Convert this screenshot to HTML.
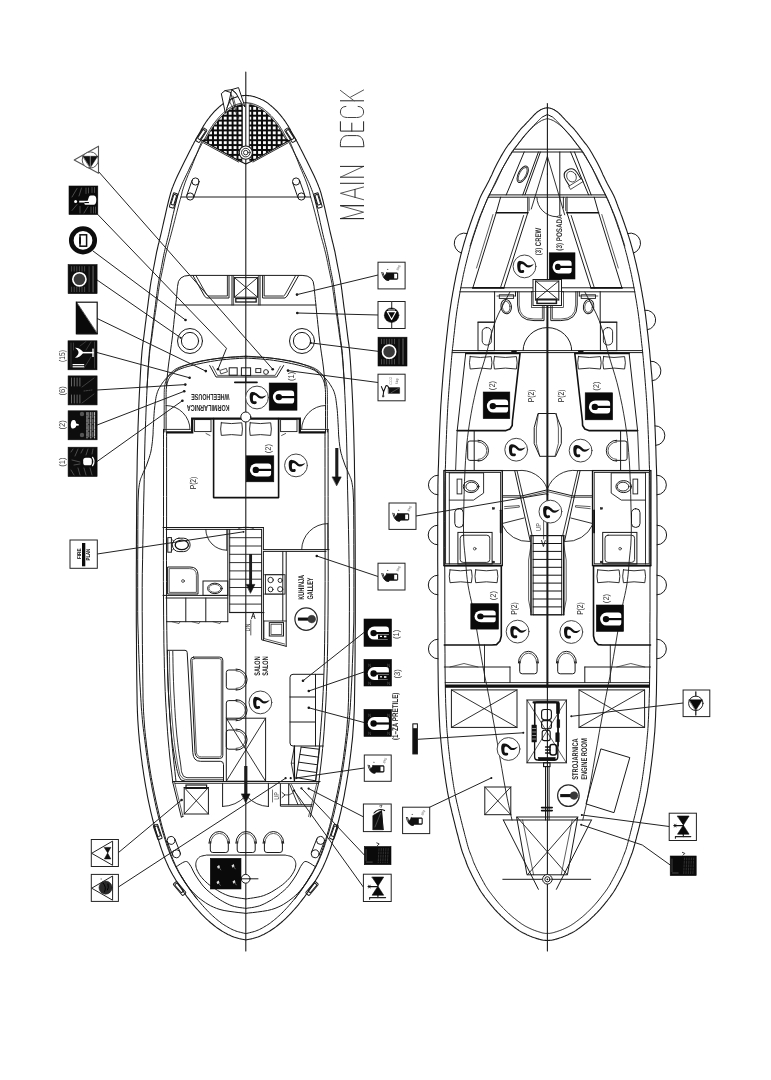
<!DOCTYPE html>
<html><head><meta charset="utf-8"><title>Deck plan</title>
<style>
html,body{margin:0;padding:0;background:#fff;}
body{width:771px;height:1080px;overflow:hidden;font-family:"Liberation Sans",sans-serif;}
svg{display:block;font-family:"Liberation Sans",sans-serif;filter:grayscale(1);}
text{text-rendering:geometricPrecision;}
</style></head><body>
<svg width="771" height="1080" viewBox="0 0 771 1080">
<defs>
<pattern id="grate" width="4.9" height="4.9" patternUnits="userSpaceOnUse" x="242.4" y="101">
<rect width="4.9" height="4.9" fill="#0a0a0a"/><rect x="1" y="1" width="2.9" height="2.9" fill="#fff"/>
</pattern>
</defs>
<rect width="771" height="1080" fill="#fff"/>
<g fill="none" stroke="#1a1a1a" stroke-width="1" stroke-linecap="round" stroke-linejoin="round">
<!-- main deck hull -->
<path d="M245.8 95.4 L245.4 95.4 L244.9 95.5 L244.3 95.5 L243.6 95.6 L242.9 95.6 L242.2 95.7 L241.5 95.8 L240.8 95.9 L240.2 96 L239.5 96.2 L238.9 96.3 L238.3 96.5 L237.6 96.6 L237 96.8 L236.4 97 L235.8 97.2 L235.2 97.4 L234.7 97.6 L234.1 97.8 L233.6 98 L233 98.2 L232.5 98.4 L231.9 98.6 L231.3 98.9 L230.7 99.2 L230 99.5 L229.4 99.8 L228.7 100.1 L228 100.5 L227.3 100.8 L226.7 101.2 L226 101.6 L225.4 102 L224.7 102.4 L224.1 102.9 L223.5 103.3 L222.9 103.8 L222.3 104.3 L221.7 104.9 L221 105.4 L220.3 106 L219.6 106.6 L218.9 107.2 L218.2 107.8 L217.5 108.5 L216.8 109.1 L216.1 109.8 L215.4 110.5 L214.7 111.2 L214 111.9 L213.4 112.7 L212.7 113.4 L212.1 114.2 L211.4 114.9 L210.8 115.7 L210.2 116.4 L209.6 117.1 L209.1 117.8 L208.5 118.5 L208 119.2 L207.5 119.9 L207 120.6 L206.5 121.3 L206 122 L205.5 122.7 L205.1 123.4 L204.7 124 L204.2 124.7 L203.8 125.4 L203.4 126 L203 126.7 L202.6 127.4 L202.2 128.1 L201.8 128.7 L201.5 129.4 L201.1 130 L200.8 130.7 L200.4 131.4 L200 132.2 L199.5 133 L199 133.9 L198.5 134.8 L197.9 135.8 L197.3 136.8 L196.8 137.8 L196.2 138.9 L195.6 139.9 L195 141 L194.4 142 L193.9 143 L193.4 144 L192.9 144.9 L192.3 146 L191.7 147.2 L191.1 148.5 L190.3 150 L189.4 151.7 L188.4 153.7 L187.4 155.7 L186.3 157.9 L185.1 160.2 L184 162.5 L182.9 164.8 L181.8 167 L180.7 169.2 L179.6 171.5 L178.5 173.8 L177.4 176.1 L176.3 178.4 L175.3 180.7 L174.4 182.9 L173.5 185 L172.8 186.9 L172.1 188.5 L171.6 190.1 L171.1 191.6 L170.6 193.2 L170.1 195.1 L169.5 197.3 L168.8 200 L168 203.4 L167 207.4 L166 211.8 L165 216.4 L163.9 221 L162.9 225.5 L162 229.5 L161.2 233 L160.5 235.9 L159.9 238.4 L159.4 240.5 L158.9 242.5 L158.4 244.3 L158 246.1 L157.6 248 L157.1 250 L156.6 252.1 L156.2 254.3 L155.8 256.4 L155.4 258.6 L155 260.7 L154.6 262.8 L154.2 264.9 L153.8 267 L153.4 269 L153 271 L152.6 273 L152.2 275 L151.9 277 L151.5 279 L151.1 281 L150.8 283 L150.5 285 L150.2 286.8 L150 288.6 L149.7 290.4 L149.5 292.4 L149.2 294.6 L148.9 297.1 L148.5 300 L148.1 303.4 L147.6 307.3 L147 311.5 L146.4 315.9 L145.9 320.4 L145.3 324.8 L144.8 329.1 L144.3 333 L143.9 336.4 L143.5 339.4 L143.1 342.1 L142.7 344.8 L142.4 347.7 L142 351.1 L141.7 355.1 L141.3 360 L140.9 365.9 L140.5 372.4 L140.1 379.6 L139.7 387.3 L139.3 395.3 L138.9 403.5 L138.6 411.8 L138.3 420 L138 428 L137.8 435.9 L137.6 443.8 L137.4 451.9 L137.2 460.4 L137.1 469.5 L136.9 479.3 L136.8 490 L136.7 502 L136.6 515.4 L136.5 529.6 L136.4 544.4 L136.4 559.2 L136.3 573.7 L136.3 587.4 L136.3 600 L136.3 611.7 L136.3 623 L136.4 634 L136.5 644.4 L136.5 654.2 L136.6 663.5 L136.7 672.1 L136.8 680 L136.9 687 L137 693 L137.1 698.2 L137.1 702.9 L137.3 707.3 L137.4 711.4 L137.6 715.6 L137.8 720 L138.1 724.5 L138.4 728.7 L138.7 732.8 L139.1 736.9 L139.4 740.9 L139.9 744.8 L140.3 748.9 L140.8 753 L141.3 757.2 L141.9 761.5 L142.4 765.7 L143.1 770 L143.7 774.3 L144.4 778.5 L145.1 782.8 L145.8 787 L146.6 791.2 L147.3 795.3 L148.1 799.4 L149 803.6 L149.9 807.7 L150.8 811.8 L151.8 815.9 L152.8 820 L153.9 824.2 L155.1 828.5 L156.3 832.9 L157.6 837.2 L158.9 841.4 L160.2 845.5 L161.5 849.4 L162.8 853 L164 856.3 L165.2 859.3 L166.4 862.1 L167.6 864.8 L168.8 867.4 L170.1 869.9 L171.4 872.4 L172.8 875 L174.3 877.6 L175.9 880.3 L177.5 882.9 L179.2 885.4 L180.9 888 L182.6 890.4 L184.2 892.8 L185.8 895 L187.3 897.1 L188.9 899.2 L190.4 901.1 L191.9 903 L193.3 904.8 L194.8 906.6 L196.3 908.3 L197.8 910 L199.3 911.7 L200.8 913.3 L202.3 914.9 L203.8 916.4 L205.3 917.9 L206.8 919.3 L208.3 920.7 L209.8 922 L211.3 923.3 L212.8 924.5 L214.3 925.7 L215.8 926.9 L217.3 928 L218.8 929 L220.3 930 L221.8 931 L223.3 931.9 L224.8 932.8 L226.3 933.6 L227.8 934.4 L229.3 935.1 L230.8 935.8 L232.3 936.4 L233.8 937 L235.4 937.5 L237.1 938 L238.8 938.5 L240.6 938.9 L242.2 939.2 L243.6 939.5 L244.9 939.8 L245.8 940 L246.7 939.8 L248 939.5 L249.4 939.2 L251.1 938.9 L252.8 938.5 L254.5 938 L256.2 937.5 L257.8 937 L259.3 936.4 L260.8 935.8 L262.3 935.1 L263.8 934.4 L265.3 933.6 L266.8 932.8 L268.3 931.9 L269.8 931 L271.3 930 L272.8 929 L274.3 928 L275.8 926.9 L277.3 925.7 L278.8 924.5 L280.3 923.3 L281.8 922 L283.3 920.7 L284.8 919.3 L286.3 917.9 L287.8 916.4 L289.3 914.9 L290.8 913.3 L292.3 911.7 L293.8 910 L295.3 908.3 L296.8 906.6 L298.3 904.8 L299.7 903 L301.2 901.1 L302.7 899.2 L304.3 897.1 L305.8 895 L307.4 892.8 L309 890.4 L310.7 888 L312.4 885.4 L314.1 882.9 L315.7 880.3 L317.3 877.6 L318.8 875 L320.2 872.4 L321.5 869.9 L322.8 867.4 L324 864.8 L325.2 862.1 L326.4 859.3 L327.6 856.3 L328.8 853 L330.1 849.4 L331.4 845.5 L332.7 841.4 L334 837.2 L335.3 832.9 L336.5 828.5 L337.7 824.2 L338.8 820 L339.8 815.9 L340.8 811.8 L341.7 807.7 L342.6 803.6 L343.5 799.4 L344.3 795.3 L345 791.2 L345.8 787 L346.5 782.8 L347.2 778.5 L347.9 774.3 L348.6 770 L349.2 765.7 L349.7 761.5 L350.3 757.2 L350.8 753 L351.3 748.9 L351.7 744.8 L352.2 740.9 L352.6 736.9 L352.9 732.8 L353.2 728.7 L353.5 724.5 L353.8 720 L354 715.6 L354.2 711.4 L354.3 707.3 L354.5 702.9 L354.5 698.2 L354.6 693 L354.7 687 L354.8 680 L354.9 672.1 L355 663.5 L355.1 654.2 L355.1 644.4 L355.2 634 L355.3 623 L355.3 611.7 L355.3 600 L355.3 587.4 L355.3 573.7 L355.2 559.2 L355.2 544.4 L355.1 529.6 L355 515.4 L354.9 502 L354.8 490 L354.7 479.3 L354.5 469.5 L354.4 460.4 L354.2 451.9 L354 443.8 L353.8 435.9 L353.6 428 L353.3 420 L353 411.8 L352.7 403.5 L352.3 395.3 L351.9 387.3 L351.5 379.6 L351.1 372.4 L350.7 365.9 L350.3 360 L349.9 355.1 L349.6 351.1 L349.2 347.7 L348.9 344.8 L348.5 342.1 L348.1 339.4 L347.7 336.4 L347.3 333 L346.8 329.1 L346.3 324.8 L345.7 320.4 L345.2 315.9 L344.6 311.5 L344 307.3 L343.5 303.4 L343.1 300 L342.7 297.1 L342.4 294.6 L342.1 292.4 L341.9 290.4 L341.6 288.6 L341.4 286.8 L341.1 285 L340.8 283 L340.5 281 L340.1 279 L339.7 277 L339.4 275 L339 273 L338.6 271 L338.2 269 L337.8 267 L337.4 264.9 L337 262.8 L336.6 260.7 L336.2 258.6 L335.8 256.4 L335.4 254.3 L335 252.1 L334.5 250 L334 248 L333.6 246.1 L333.2 244.3 L332.7 242.5 L332.2 240.5 L331.7 238.4 L331.1 235.9 L330.4 233 L329.6 229.5 L328.7 225.5 L327.7 221 L326.6 216.4 L325.6 211.8 L324.6 207.4 L323.6 203.4 L322.8 200 L322.1 197.3 L321.5 195.1 L321 193.2 L320.5 191.6 L320 190.1 L319.5 188.5 L318.8 186.9 L318.1 185 L317.2 182.9 L316.3 180.7 L315.3 178.4 L314.2 176.1 L313.1 173.8 L312 171.5 L310.9 169.2 L309.8 167 L308.7 164.8 L307.6 162.5 L306.5 160.2 L305.3 157.9 L304.2 155.7 L303.2 153.7 L302.2 151.7 L301.3 150 L300.5 148.5 L299.9 147.2 L299.3 146 L298.7 144.9 L298.2 144 L297.7 143 L297.2 142 L296.6 141 L296 139.9 L295.4 138.9 L294.8 137.8 L294.2 136.8 L293.7 135.8 L293.1 134.8 L292.6 133.9 L292.1 133 L291.6 132.2 L291.2 131.4 L290.8 130.7 L290.5 130 L290.1 129.4 L289.8 128.7 L289.4 128.1 L289 127.4 L288.6 126.7 L288.2 126 L287.8 125.4 L287.4 124.7 L286.9 124 L286.5 123.4 L286.1 122.7 L285.6 122 L285.1 121.3 L284.6 120.6 L284.1 119.9 L283.6 119.2 L283.1 118.5 L282.5 117.8 L282 117.1 L281.4 116.4 L280.8 115.7 L280.2 114.9 L279.5 114.2 L278.9 113.4 L278.2 112.7 L277.6 111.9 L276.9 111.2 L276.2 110.5 L275.5 109.8 L274.8 109.1 L274.1 108.5 L273.4 107.8 L272.7 107.2 L272 106.6 L271.3 106 L270.6 105.4 L269.9 104.9 L269.3 104.3 L268.7 103.8 L268.1 103.3 L267.5 102.9 L266.9 102.4 L266.2 102 L265.6 101.6 L264.9 101.2 L264.3 100.8 L263.6 100.5 L262.9 100.1 L262.2 99.8 L261.6 99.5 L260.9 99.2 L260.3 98.9 L259.7 98.6 L259.1 98.4 L258.6 98.2 L258 98 L257.5 97.8 L256.9 97.6 L256.4 97.4 L255.8 97.2 L255.2 97 L254.6 96.8 L254 96.6 L253.3 96.5 L252.7 96.3 L252.1 96.2 L251.4 96 L250.8 95.9 L250.1 95.8 L249.4 95.7 L248.7 95.6 L248 95.6 L247.3 95.5 L246.7 95.5 L246.2 95.4 L245.8 95.4" stroke-width="1.1"/>
<path d="M245.8 102.7 L240.1 103.4 L239.6 103.6 L239.1 103.7 L238.5 103.9 L238 104.1 L237.5 104.2 L237 104.4 L236.5 104.6 L236.1 104.7 L235.7 104.9 L235.2 105.1 L234.8 105.3 L234.2 105.5 L233.7 105.8 L233.1 106 L232.5 106.3 L231.9 106.6 L231.3 106.9 L230.8 107.2 L230.3 107.4 L229.8 107.7 L229.4 108 L228.9 108.3 L228.4 108.7 L227.9 109.1 L227.4 109.5 L226.9 109.9 L226.3 110.4 L225.7 110.9 L225 111.5 L224.4 112 L223.7 112.6 L223.1 113.2 L222.4 113.8 L221.8 114.4 L221.2 115 L220.6 115.6 L220 116.2 L219.4 116.8 L218.8 117.5 L218.2 118.2 L217.6 118.9 L217 119.6 L216.4 120.3 L215.9 121 L215.3 121.7 L214.8 122.3 L214.3 123 L213.8 123.6 L213.4 124.2 L212.9 124.9 L212.5 125.5 L212 126.2 L211.6 126.8 L211.2 127.4 L210.8 128 L210.5 128.6 L210.1 129.2 L209.7 129.8 L209.3 130.5 L208.9 131.1 L208.6 131.7 L208.3 132.3 L207.9 132.9 L207.6 133.5 L207.2 134.2 L206.8 134.9 L206.4 135.7 L205.9 136.6 L205.4 137.5 L204.9 138.5 L204.3 139.4 L203.8 140.4 L203.2 141.5 L202.6 142.5 L202.1 143.5 L201.5 144.5 L201 145.5 L200.5 146.5 L200 147.4 L199.5 148.4 L198.9 149.4 L198.4 150.6 L197.7 151.9 L196.9 153.4 L196.1 155.1 L195.1 157 L194 159.1 L193 161.3 L191.8 163.5 L190.7 165.8 L189.6 168.1 L188.6 170.3 L187.5 172.5 L186.4 174.8 L185.3 177.1 L184.3 179.3 L183.2 181.6 L182.2 183.8 L181.4 185.8 L180.6 187.8 L179.9 189.6 L179.3 191.2 L178.8 192.5 L178.4 193.8 L177.9 195.3 L177.4 197 L176.8 199.2 L176.2 201.9 L175.3 205.2 L174.4 209.1 L173.4 213.4 L172.3 218 L171.3 222.7 L170.3 227.1 L169.4 231.2 L168.6 234.7 L167.9 237.7 L167.2 240.2 L166.7 242.4 L166.2 244.3 L165.8 246.1 L165.3 247.9 L164.9 249.7 L164.5 251.6 L164 253.7 L163.6 255.7 L163.2 257.9 L162.8 260 L162.4 262.1 L162 264.2 L161.6 266.3 L161.2 268.4 L160.8 270.5 L160.4 272.5 L160 274.5 L159.6 276.4 L159.2 278.4 L158.9 280.3 L158.5 282.2 L158.2 284.2 L157.9 286.1 L157.6 287.9 L157.4 289.6 L157.2 291.4 L156.9 293.4 L156.6 295.5 L156.3 298.1 L155.9 301 L155.5 304.4 L155 308.2 L154.4 312.4 L153.9 316.8 L153.3 321.3 L152.7 325.7 L152.2 330 L151.7 333.9 L151.3 337.4 L150.9 340.4 L150.5 343.1 L150.1 345.8 L149.8 348.6 L149.4 351.8 L149.1 355.7 L148.7 360.5 L148.3 366.3 L147.9 372.9 L147.5 380 L147.1 387.7 L146.7 395.7 L146.3 403.8 L146 412.1 L145.7 420.3 L145.4 428.2 L145.1 436.1 L144.9 443.9 L144.7 452 L144.5 460.5 L144.4 469.6 L144.2 479.4 L144 490.1 L143.7 502.1 L143.4 515.4 L143.1 529.7 L142.8 544.4 L142.6 559.2 L142.3 573.7 L142.2 587.4 L142.2 600 L142.2 611.7 L142.3 623 L142.3 633.9 L142.4 644.3 L142.5 654.2 L142.6 663.5 L142.7 672.1 L142.8 679.9 L142.9 686.9 L143 692.9 L143 698.1 L143.2 702.8 L143.4 707.1 L143.5 711.2 L143.8 715.3 L144.1 719.7 L144.4 724 L144.7 728.2 L145.1 732.3 L145.5 736.3 L146 740.2 L146.4 744.1 L146.9 748.1 L147.5 752.2 L148 756.4 L148.6 760.6 L149.3 764.8 L149.9 769 L150.6 773.2 L151.3 777.4 L152.1 781.6 L152.9 785.7 L153.7 789.9 L154.5 793.9 L155.4 798 L156.2 802 L157.2 806.1 L158.1 810.1 L159 814.1 L160 818.2 L161 822.3 L162.1 826.5 L163.3 830.8 L164.6 835.1 L165.8 839.3 L167 843.3 L168.3 847.1 L169.5 850.6 L170.6 853.8 L171.8 856.7 L172.9 859.4 L174 861.9 L175.1 864.3 L176.3 866.7 L177.5 869.2 L178.8 871.7 L180.2 874.2 L181.7 876.7 L183.3 879.2 L184.8 881.7 L186.5 884.1 L188.1 886.5 L189.7 888.9 L191.3 891.1 L192.7 893.2 L194.2 895.1 L195.6 897 L197 898.8 L198.4 900.6 L199.9 902.3 L201.3 904 L202.7 905.6 L204.1 907.2 L205.6 908.8 L207 910.3 L208.4 911.8 L209.8 913.2 L211.2 914.5 L212.7 915.9 L214.1 917.1 L215.5 918.4 L216.9 919.5 L218.3 920.7 L219.7 921.7 L221 922.8 L222.4 923.8 L223.8 924.7 L225.2 925.6 L226.6 926.4 L227.9 927.2 L229.3 928 L230.6 928.7 L232 929.4 L233.3 930 L234.7 930.5 L236 931.1 L237.3 931.5 L238.7 931.9 L240.3 932.3 L241.9 932.7 L243.5 933.1 L244.9 933.4 L245.8 933.6 L245.8 933.9 L245.8 933.5 L245.8 933.9 L245.8 933.6 L246.7 933.4 L248.1 933.1 L249.7 932.7 L251.3 932.3 L252.9 931.9 L254.3 931.5 L255.6 931.1 L256.9 930.5 L258.3 930 L259.6 929.4 L261 928.7 L262.3 928 L263.7 927.2 L265 926.4 L266.4 925.6 L267.8 924.7 L269.2 923.8 L270.6 922.8 L271.9 921.7 L273.3 920.7 L274.7 919.5 L276.1 918.4 L277.5 917.1 L278.9 915.9 L280.4 914.5 L281.8 913.2 L283.2 911.8 L284.6 910.3 L286 908.8 L287.5 907.2 L288.9 905.6 L290.3 904 L291.7 902.3 L293.2 900.6 L294.6 898.8 L296 897 L297.4 895.1 L298.9 893.2 L300.3 891.1 L301.9 888.9 L303.5 886.5 L305.1 884.1 L306.8 881.7 L308.3 879.2 L309.9 876.7 L311.4 874.2 L312.8 871.7 L314.1 869.2 L315.3 866.7 L316.5 864.3 L317.6 861.9 L318.7 859.4 L319.8 856.7 L321 853.8 L322.1 850.6 L323.3 847.1 L324.6 843.3 L325.8 839.3 L327 835.1 L328.3 830.8 L329.5 826.5 L330.6 822.3 L331.6 818.2 L332.6 814.1 L333.5 810.1 L334.4 806.1 L335.4 802 L336.2 798 L337.1 793.9 L337.9 789.9 L338.7 785.7 L339.5 781.6 L340.3 777.4 L341 773.2 L341.7 769 L342.3 764.8 L343 760.6 L343.6 756.4 L344.1 752.2 L344.7 748.1 L345.2 744.1 L345.6 740.2 L346.1 736.3 L346.5 732.3 L346.9 728.2 L347.2 724 L347.5 719.7 L347.8 715.3 L348.1 711.2 L348.2 707.1 L348.4 702.8 L348.6 698.1 L348.6 692.9 L348.7 686.9 L348.8 679.9 L348.9 672.1 L349 663.5 L349.1 654.2 L349.2 644.3 L349.3 633.9 L349.3 623 L349.4 611.7 L349.4 600 L349.4 587.4 L349.3 573.7 L349 559.2 L348.8 544.4 L348.5 529.7 L348.2 515.4 L347.9 502.1 L347.6 490.1 L347.4 479.4 L347.2 469.6 L347.1 460.5 L346.9 452 L346.7 443.9 L346.5 436.1 L346.2 428.2 L345.9 420.3 L345.6 412.1 L345.3 403.8 L344.9 395.7 L344.5 387.7 L344.1 380 L343.7 372.9 L343.3 366.3 L342.9 360.5 L342.5 355.7 L342.2 351.8 L341.8 348.6 L341.5 345.8 L341.1 343.1 L340.7 340.4 L340.3 337.4 L339.9 333.9 L339.4 330 L338.9 325.7 L338.3 321.3 L337.7 316.8 L337.2 312.4 L336.6 308.2 L336.1 304.4 L335.7 301 L335.3 298.1 L335 295.5 L334.7 293.4 L334.4 291.4 L334.2 289.6 L334 287.9 L333.7 286.1 L333.4 284.2 L333.1 282.2 L332.7 280.3 L332.4 278.4 L332 276.4 L331.6 274.5 L331.2 272.5 L330.8 270.5 L330.4 268.4 L330 266.3 L329.6 264.2 L329.2 262.1 L328.8 260 L328.4 257.9 L328 255.7 L327.6 253.7 L327.1 251.6 L326.7 249.7 L326.3 247.9 L325.8 246.1 L325.4 244.3 L324.9 242.4 L324.4 240.2 L323.7 237.7 L323 234.7 L322.2 231.2 L321.3 227.1 L320.3 222.7 L319.3 218 L318.2 213.4 L317.2 209.1 L316.3 205.2 L315.4 201.9 L314.8 199.2 L314.2 197 L313.7 195.3 L313.2 193.8 L312.8 192.5 L312.3 191.2 L311.7 189.6 L311 187.8 L310.2 185.8 L309.4 183.8 L308.4 181.6 L307.3 179.3 L306.3 177.1 L305.2 174.8 L304.1 172.5 L303 170.3 L302 168.1 L300.9 165.8 L299.8 163.5 L298.6 161.3 L297.6 159.1 L296.5 157 L295.5 155.1 L294.7 153.4 L293.9 151.9 L293.2 150.6 L292.7 149.4 L292.1 148.4 L291.6 147.4 L291.1 146.5 L290.6 145.5 L290.1 144.5 L289.5 143.5 L289 142.5 L288.4 141.5 L287.8 140.4 L287.3 139.4 L286.7 138.5 L286.2 137.5 L285.7 136.6 L285.2 135.7 L284.8 134.9 L284.4 134.2 L284 133.5 L283.7 132.9 L283.3 132.3 L283 131.7 L282.7 131.1 L282.3 130.5 L281.9 129.8 L281.5 129.2 L281.1 128.6 L280.8 128 L280.4 127.4 L280 126.8 L279.6 126.2 L279.1 125.5 L278.7 124.9 L278.2 124.2 L277.8 123.6 L277.3 123 L276.8 122.3 L276.3 121.7 L275.7 121 L275.2 120.3 L274.6 119.6 L274 118.9 L273.4 118.2 L272.8 117.5 L272.2 116.8 L271.6 116.2 L271 115.6 L270.4 115 L269.8 114.4 L269.2 113.8 L268.5 113.2 L267.9 112.6 L267.2 112 L266.6 111.5 L265.9 110.9 L265.3 110.4 L264.7 109.9 L264.2 109.5 L263.7 109.1 L263.2 108.7 L262.7 108.3 L262.2 108 L261.8 107.7 L261.3 107.4 L260.8 107.2 L260.3 106.9 L259.7 106.6 L259.1 106.3 L258.5 106 L257.9 105.8 L257.4 105.5 L256.8 105.3 L256.4 105.1 L255.9 104.9 L255.5 104.7 L255.1 104.6 L254.6 104.4 L254.1 104.2 L253.6 104.1 L253.1 103.9 L252.5 103.7 L252 103.6 L251.5 103.4 L245.8 102.7" stroke-width="1"/>
<path d="M245.8 72L245.8 951" stroke-width="1.1"/>
<!-- lower deck hull -->
<path d="M547.4 107.8 L547.1 107.8 L546.8 107.9 L546.4 107.9 L545.9 108 L545.4 108 L544.9 108.1 L544.4 108.2 L543.9 108.4 L543.4 108.6 L542.8 108.8 L542.3 109 L541.7 109.3 L541.1 109.5 L540.5 109.8 L540 110.2 L539.4 110.5 L538.9 110.9 L538.3 111.2 L537.8 111.6 L537.3 112 L536.8 112.4 L536.3 112.9 L535.7 113.4 L535.1 114 L534.5 114.6 L533.9 115.2 L533.2 115.9 L532.6 116.6 L531.9 117.3 L531.1 118.2 L530.3 119 L529.4 120 L528.4 121.1 L527.3 122.2 L526.1 123.5 L524.8 124.8 L523.6 126.1 L522.3 127.4 L521.1 128.7 L520 130 L518.9 131.3 L517.9 132.5 L516.9 133.8 L516 135 L515 136.3 L514.1 137.5 L513.1 138.8 L512.2 140 L511.3 141.2 L510.4 142.3 L509.6 143.3 L508.7 144.4 L507.8 145.5 L507 146.7 L506.1 148 L505.1 149.5 L504.1 151.2 L503 153 L501.9 154.9 L500.7 156.9 L499.6 159 L498.5 161 L497.4 163 L496.4 165 L495.4 166.9 L494.5 168.8 L493.7 170.6 L492.8 172.5 L492 174.4 L491.1 176.2 L490.2 178.1 L489.3 180 L488.3 181.9 L487.2 183.9 L486.2 185.9 L485.1 188 L484 190 L482.9 191.9 L482 193.8 L481.1 195.6 L480.3 197.3 L479.6 198.9 L479 200.5 L478.4 202 L477.9 203.5 L477.3 205 L476.8 206.5 L476.2 208 L475.6 209.5 L475.1 210.8 L474.6 212.1 L474.1 213.4 L473.6 214.8 L473 216.3 L472.4 218 L471.7 220 L470.9 222.3 L470 224.8 L469.1 227.5 L468.1 230.3 L467.2 233.2 L466.2 236.2 L465.3 239.1 L464.4 242 L463.6 244.8 L462.8 247.7 L462 250.6 L461.2 253.5 L460.5 256.4 L459.8 259.3 L459.1 262.2 L458.4 265 L457.8 267.8 L457.2 270.4 L456.6 273.1 L456 275.7 L455.5 278.4 L455 281.1 L454.4 283.8 L453.9 286.7 L453.4 289.7 L452.8 292.7 L452.3 295.8 L451.7 299 L451.2 302.2 L450.7 305.4 L450.2 308.7 L449.7 312 L449.2 315.4 L448.8 319 L448.3 322.7 L447.9 326.3 L447.5 330 L447.1 333.5 L446.7 336.9 L446.4 340 L446.1 342.8 L445.8 345.3 L445.6 347.6 L445.3 349.9 L445.1 352.1 L444.9 354.5 L444.7 357.1 L444.4 360 L444.1 363.3 L443.8 366.8 L443.5 370.5 L443.1 374.4 L442.8 378.3 L442.5 382.3 L442.2 386.2 L441.9 390 L441.6 393.7 L441.4 397.3 L441.2 400.8 L440.9 404.4 L440.7 408 L440.5 411.8 L440.3 415.8 L440.1 420 L439.9 424.5 L439.7 429.3 L439.5 434.3 L439.3 439.4 L439.1 444.6 L438.9 449.8 L438.8 454.9 L438.6 460 L438.5 464.6 L438.3 468.6 L438.2 472.4 L438.1 476.2 L438 480.6 L437.9 485.8 L437.9 492.1 L437.8 500 L437.8 509.8 L437.7 521.2 L437.7 534 L437.7 547.5 L437.7 561.3 L437.8 575 L437.8 588 L437.8 600 L437.8 611.2 L437.9 622.3 L437.9 633.2 L437.9 643.8 L438 653.8 L438 663.3 L438.1 672.1 L438.2 680 L438.3 687.1 L438.4 693.3 L438.6 698.8 L438.7 703.8 L438.9 708.2 L439.1 712.3 L439.2 716.2 L439.4 720 L439.6 723.5 L439.7 726.4 L439.9 729 L440 731.2 L440.2 733.4 L440.4 735.5 L440.6 737.6 L440.8 740 L441 742.5 L441.3 745 L441.5 747.5 L441.8 750 L442 752.5 L442.3 755 L442.6 757.5 L442.9 760 L443.2 762.5 L443.5 765.1 L443.9 767.6 L444.2 770.2 L444.5 772.7 L444.9 775.2 L445.2 777.6 L445.6 780 L445.9 782.3 L446.3 784.4 L446.6 786.6 L447 788.6 L447.3 790.7 L447.7 792.8 L448.1 794.8 L448.5 797 L449 799.2 L449.4 801.4 L449.9 803.6 L450.4 805.9 L451 808.1 L451.5 810.4 L452 812.7 L452.6 815 L453.2 817.3 L453.8 819.8 L454.4 822.2 L455 824.6 L455.6 827.1 L456.2 829.4 L456.8 831.8 L457.4 834 L458 836.2 L458.5 838.4 L459.1 840.5 L459.6 842.6 L460.2 844.6 L460.7 846.5 L461.2 848.3 L461.7 850 L462.2 851.6 L462.7 853 L463.2 854.3 L463.7 855.6 L464.1 856.7 L464.6 857.9 L465 858.9 L465.4 860 L465.8 861 L466 861.8 L466.3 862.5 L466.5 863.3 L466.8 864 L467.1 864.8 L467.5 865.8 L468 866.9 L468.6 868.3 L469.3 869.8 L470.1 871.4 L471 873.2 L471.8 874.9 L472.7 876.7 L473.6 878.4 L474.4 880 L475.2 881.5 L476 883.1 L476.8 884.6 L477.7 886 L478.5 887.5 L479.3 888.9 L480.1 890.2 L480.9 891.5 L481.7 892.7 L482.5 893.8 L483.2 894.9 L484 895.9 L484.7 897 L485.5 898 L486.3 899 L487.1 900 L487.9 901.1 L488.8 902.1 L489.6 903.2 L490.5 904.3 L491.4 905.4 L492.2 906.4 L493.1 907.4 L493.9 908.4 L494.7 909.3 L495.5 910.2 L496.3 911 L497.1 911.8 L497.8 912.6 L498.6 913.4 L499.4 914.2 L500.2 915 L501 915.8 L501.9 916.6 L502.7 917.4 L503.5 918.2 L504.4 919 L505.2 919.8 L506.1 920.6 L506.9 921.3 L507.7 922 L508.5 922.7 L509.4 923.4 L510.2 924 L511 924.6 L511.8 925.3 L512.6 925.9 L513.4 926.5 L514.2 927.1 L515 927.7 L515.8 928.3 L516.6 928.9 L517.5 929.5 L518.3 930 L519.1 930.6 L519.9 931.1 L520.7 931.6 L521.5 932.1 L522.3 932.5 L523.2 932.9 L524 933.3 L524.8 933.7 L525.6 934.1 L526.4 934.5 L527.2 934.9 L528 935.2 L528.8 935.6 L529.6 935.9 L530.4 936.3 L531.2 936.6 L532 936.9 L532.8 937.2 L533.6 937.5 L534.5 937.8 L535.4 938.1 L536.2 938.4 L537.1 938.6 L537.9 938.9 L538.7 939.1 L539.4 939.3 L540 939.5 L540.6 939.6 L541.1 939.8 L541.6 939.9 L542 940 L542.5 940 L542.9 940.1 L543.4 940.2 L543.9 940.3 L544.5 940.3 L545.1 940.4 L545.6 940.4 L546.2 940.4 L546.7 940.5 L547.1 940.5 L547.4 940.5 L547.7 940.5 L548.1 940.5 L548.6 940.4 L549.1 940.4 L549.7 940.4 L550.3 940.3 L550.9 940.3 L551.4 940.2 L551.9 940.1 L552.3 940 L552.8 940 L553.2 939.9 L553.7 939.8 L554.2 939.6 L554.8 939.5 L555.4 939.3 L556.1 939.1 L556.9 938.9 L557.7 938.6 L558.5 938.4 L559.4 938.1 L560.3 937.8 L561.2 937.5 L562 937.2 L562.8 936.9 L563.6 936.6 L564.4 936.3 L565.2 935.9 L566 935.6 L566.8 935.2 L567.6 934.9 L568.4 934.5 L569.2 934.1 L570 933.7 L570.8 933.3 L571.6 932.9 L572.5 932.5 L573.3 932.1 L574.1 931.6 L574.9 931.1 L575.7 930.6 L576.5 930 L577.3 929.5 L578.1 928.9 L579 928.3 L579.8 927.7 L580.6 927.1 L581.4 926.5 L582.2 925.9 L583 925.3 L583.8 924.6 L584.6 924 L585.4 923.4 L586.3 922.7 L587.1 922 L587.9 921.3 L588.7 920.6 L589.6 919.8 L590.4 919 L591.3 918.2 L592.1 917.4 L592.9 916.6 L593.8 915.8 L594.6 915 L595.4 914.2 L596.2 913.4 L597 912.6 L597.7 911.8 L598.5 911 L599.3 910.2 L600.1 909.3 L600.9 908.4 L601.7 907.4 L602.6 906.4 L603.4 905.4 L604.3 904.3 L605.2 903.2 L606 902.1 L606.9 901.1 L607.7 900 L608.5 899 L609.3 898 L610.1 897 L610.8 895.9 L611.6 894.9 L612.3 893.8 L613.1 892.7 L613.9 891.5 L614.7 890.2 L615.5 888.9 L616.3 887.5 L617.1 886 L618 884.6 L618.8 883.1 L619.6 881.5 L620.4 880 L621.2 878.4 L622.1 876.7 L623 874.9 L623.8 873.2 L624.7 871.4 L625.5 869.8 L626.2 868.3 L626.8 866.9 L627.3 865.8 L627.7 864.8 L628 864 L628.3 863.3 L628.5 862.5 L628.8 861.8 L629 861 L629.4 860 L629.8 858.9 L630.2 857.9 L630.7 856.7 L631.1 855.6 L631.6 854.3 L632.1 853 L632.6 851.6 L633.1 850 L633.6 848.3 L634.1 846.5 L634.6 844.6 L635.2 842.6 L635.7 840.5 L636.3 838.4 L636.8 836.2 L637.4 834 L638 831.8 L638.6 829.4 L639.2 827.1 L639.8 824.6 L640.4 822.2 L641 819.8 L641.6 817.3 L642.2 815 L642.8 812.7 L643.3 810.4 L643.8 808.1 L644.4 805.9 L644.9 803.6 L645.4 801.4 L645.8 799.2 L646.3 797 L646.7 794.8 L647.1 792.8 L647.5 790.7 L647.8 788.6 L648.2 786.6 L648.5 784.4 L648.9 782.3 L649.2 780 L649.6 777.6 L649.9 775.2 L650.3 772.7 L650.6 770.2 L650.9 767.6 L651.3 765.1 L651.6 762.5 L651.9 760 L652.2 757.5 L652.5 755 L652.8 752.5 L653 750 L653.3 747.5 L653.5 745 L653.8 742.5 L654 740 L654.2 737.6 L654.4 735.5 L654.6 733.4 L654.8 731.2 L654.9 729 L655.1 726.4 L655.2 723.5 L655.4 720 L655.6 716.2 L655.7 712.3 L655.9 708.2 L656.1 703.8 L656.2 698.8 L656.4 693.3 L656.5 687.1 L656.6 680 L656.7 672.1 L656.8 663.3 L656.8 653.8 L656.9 643.8 L656.9 633.2 L656.9 622.3 L657 611.2 L657 600 L657 588 L657 575 L657.1 561.3 L657.1 547.5 L657.1 534 L657.1 521.2 L657 509.8 L657 500 L656.9 492.1 L656.9 485.8 L656.8 480.6 L656.7 476.2 L656.6 472.4 L656.5 468.6 L656.3 464.6 L656.2 460 L656 454.9 L655.9 449.8 L655.7 444.6 L655.5 439.4 L655.3 434.3 L655.1 429.3 L654.9 424.5 L654.7 420 L654.5 415.8 L654.3 411.8 L654.1 408 L653.9 404.4 L653.6 400.8 L653.4 397.3 L653.2 393.7 L652.9 390 L652.6 386.2 L652.3 382.3 L652 378.3 L651.7 374.4 L651.3 370.5 L651 366.8 L650.7 363.3 L650.4 360 L650.1 357.1 L649.9 354.5 L649.7 352.1 L649.5 349.9 L649.2 347.6 L649 345.3 L648.7 342.8 L648.4 340 L648.1 336.9 L647.7 333.5 L647.3 330 L646.9 326.3 L646.5 322.7 L646 319 L645.6 315.4 L645.1 312 L644.6 308.7 L644.1 305.4 L643.6 302.2 L643.1 299 L642.5 295.8 L642 292.7 L641.4 289.7 L640.9 286.7 L640.4 283.8 L639.8 281.1 L639.3 278.4 L638.8 275.7 L638.2 273.1 L637.6 270.4 L637 267.8 L636.4 265 L635.7 262.2 L635 259.3 L634.3 256.4 L633.6 253.5 L632.8 250.6 L632 247.7 L631.2 244.8 L630.4 242 L629.5 239.1 L628.6 236.2 L627.6 233.2 L626.7 230.3 L625.7 227.5 L624.8 224.8 L623.9 222.3 L623.1 220 L622.4 218 L621.8 216.3 L621.2 214.8 L620.7 213.4 L620.2 212.1 L619.7 210.8 L619.2 209.5 L618.6 208 L618 206.5 L617.5 205 L616.9 203.5 L616.4 202 L615.8 200.5 L615.2 198.9 L614.5 197.3 L613.7 195.6 L612.8 193.8 L611.9 191.9 L610.8 190 L609.7 188 L608.6 185.9 L607.5 183.9 L606.5 181.9 L605.5 180 L604.6 178.1 L603.7 176.2 L602.8 174.4 L602 172.5 L601.1 170.6 L600.3 168.8 L599.4 166.9 L598.4 165 L597.4 163 L596.3 161 L595.2 159 L594 156.9 L592.9 154.9 L591.8 153 L590.7 151.2 L589.7 149.5 L588.7 148 L587.8 146.7 L587 145.5 L586.1 144.4 L585.2 143.3 L584.4 142.3 L583.5 141.2 L582.6 140 L581.7 138.8 L580.7 137.5 L579.8 136.3 L578.8 135 L577.9 133.8 L576.9 132.5 L575.9 131.3 L574.8 130 L573.7 128.7 L572.5 127.4 L571.2 126.1 L570 124.8 L568.7 123.5 L567.5 122.2 L566.4 121.1 L565.4 120 L564.5 119 L563.7 118.2 L562.9 117.3 L562.2 116.6 L561.6 115.9 L560.9 115.2 L560.3 114.6 L559.7 114 L559.1 113.4 L558.5 112.9 L558 112.4 L557.5 112 L557 111.6 L556.5 111.2 L555.9 110.9 L555.4 110.5 L554.8 110.2 L554.3 109.8 L553.7 109.5 L553.1 109.3 L552.5 109 L552 108.8 L551.4 108.6 L550.9 108.4 L550.4 108.2 L549.9 108.1 L549.4 108 L548.9 108 L548.4 107.9 L548 107.9 L547.7 107.8 L547.4 107.8" stroke-width="1.1"/>
<path d="M547.4 114.5 L542.1 117.1 L541.8 117.4 L541.4 117.7 L540.9 118.1 L540.5 118.6 L539.9 119.1 L539.4 119.6 L538.9 120.1 L538.3 120.7 L537.7 121.4 L537 122.1 L536.3 122.9 L535.4 123.8 L534.5 124.8 L533.4 125.9 L532.3 127.1 L531.1 128.3 L529.9 129.6 L528.7 130.9 L527.5 132.2 L526.3 133.4 L525.3 134.6 L524.3 135.7 L523.4 136.9 L522.4 138.1 L521.5 139.3 L520.6 140.5 L519.7 141.7 L518.7 143 L517.8 144.3 L516.8 145.5 L515.9 146.6 L515 147.7 L514.2 148.7 L513.4 149.7 L512.7 150.8 L511.9 151.9 L511 153.2 L510.1 154.8 L509 156.5 L508 158.4 L506.9 160.3 L505.8 162.3 L504.7 164.3 L503.6 166.3 L502.6 168.2 L501.7 170 L500.9 171.8 L500 173.6 L499.2 175.4 L498.3 177.3 L497.5 179.2 L496.5 181.1 L495.6 183.1 L494.5 185.2 L493.4 187.2 L492.3 189.3 L491.2 191.3 L490.1 193.3 L489.1 195.2 L488.2 196.9 L487.4 198.6 L486.7 200.1 L486.1 201.6 L485.5 203.1 L485 204.5 L484.4 205.9 L483.9 207.4 L483.3 208.9 L482.7 210.5 L482.2 212 L481.6 213.3 L481.1 214.6 L480.6 215.9 L480.1 217.2 L479.6 218.7 L479 220.4 L478.3 222.3 L477.5 224.6 L476.7 227.1 L475.7 229.7 L474.8 232.6 L473.8 235.4 L472.9 238.3 L472 241.2 L471.1 244 L470.3 246.8 L469.5 249.6 L468.8 252.4 L468 255.3 L467.3 258.1 L466.6 261 L465.9 263.8 L465.2 266.6 L464.6 269.3 L464 271.9 L463.4 274.5 L462.9 277.1 L462.4 279.7 L461.8 282.4 L461.3 285.1 L460.8 288 L460.2 290.9 L459.7 293.9 L459.2 297 L458.6 300.1 L458.1 303.3 L457.6 306.5 L457.1 309.7 L456.6 313 L456.2 316.3 L455.7 319.9 L455.3 323.5 L454.9 327.1 L454.5 330.7 L454.1 334.3 L453.7 337.6 L453.4 340.8 L453.1 343.6 L452.8 346.1 L452.5 348.4 L452.3 350.6 L452.1 352.8 L451.9 355.1 L451.6 357.7 L451.4 360.6 L451.1 363.9 L450.8 367.4 L450.4 371.1 L450.1 375 L449.8 378.9 L449.5 382.8 L449.2 386.7 L448.9 390.5 L448.6 394.2 L448.4 397.7 L448.1 401.3 L447.9 404.8 L447.7 408.4 L447.5 412.2 L447.3 416.1 L447.1 420.3 L446.9 424.8 L446.7 429.6 L446.5 434.5 L446.3 439.6 L446.1 444.8 L445.9 450 L445.7 455.1 L445.6 460.2 L445.5 464.8 L445.3 468.8 L445.2 472.6 L445.1 476.4 L445 480.7 L444.9 485.9 L444.9 492.2 L444.8 500 L444.8 509.8 L444.7 521.3 L444.7 534 L444.7 547.5 L444.7 561.3 L444.8 575 L444.8 588 L444.8 600 L444.8 611.2 L444.9 622.3 L444.9 633.2 L444.9 643.7 L445 653.8 L445 663.2 L445.1 672 L445.2 679.9 L445.3 686.9 L445.4 693.1 L445.6 698.6 L445.7 703.5 L445.9 708 L446.1 712.1 L446.2 715.9 L446.4 719.7 L446.6 723.1 L446.7 726 L446.9 728.5 L447 730.7 L447.2 732.8 L447.4 734.9 L447.6 737 L447.8 739.4 L448 741.9 L448.2 744.3 L448.5 746.8 L448.7 749.3 L449 751.7 L449.3 754.2 L449.6 756.7 L449.8 759.2 L450.2 761.7 L450.5 764.2 L450.8 766.7 L451.1 769.3 L451.5 771.8 L451.8 774.2 L452.2 776.6 L452.5 779 L452.9 781.2 L453.2 783.3 L453.5 785.4 L453.9 787.5 L454.2 789.5 L454.6 791.5 L455 793.5 L455.4 795.6 L455.8 797.8 L456.3 799.9 L456.7 802.1 L457.3 804.3 L457.8 806.5 L458.3 808.8 L458.9 811.1 L459.4 813.4 L460 815.7 L460.6 818.1 L461.2 820.5 L461.8 822.9 L462.4 825.3 L463 827.7 L463.6 830 L464.2 832.2 L464.7 834.4 L465.3 836.6 L465.9 838.7 L466.4 840.8 L466.9 842.7 L467.4 844.6 L467.9 846.4 L468.4 847.9 L468.8 849.4 L469.3 850.7 L469.7 851.9 L470.2 853 L470.6 854.2 L471.1 855.3 L471.5 856.4 L472 857.6 L472.3 858.6 L472.7 859.5 L472.9 860.3 L473.1 861 L473.4 861.6 L473.6 862.2 L473.9 863 L474.4 864 L475 865.3 L475.7 866.8 L476.4 868.4 L477.2 870.1 L478.1 871.8 L479 873.5 L479.8 875.2 L480.6 876.8 L481.4 878.2 L482.2 879.7 L483 881.2 L483.8 882.6 L484.5 884 L485.3 885.3 L486.1 886.6 L486.8 887.7 L487.5 888.8 L488.2 889.8 L488.9 890.8 L489.6 891.8 L490.3 892.7 L491.1 893.7 L491.8 894.7 L492.6 895.7 L493.5 896.8 L494.3 897.8 L495.1 898.9 L495.9 899.9 L496.8 901 L497.6 901.9 L498.4 902.9 L499.2 903.8 L499.9 904.6 L500.6 905.4 L501.4 906.2 L502.1 907 L502.8 907.7 L503.6 908.5 L504.3 909.2 L505.1 910 L505.9 910.8 L506.7 911.6 L507.5 912.4 L508.3 913.1 L509.1 913.9 L509.9 914.6 L510.7 915.3 L511.5 916 L512.3 916.7 L513 917.3 L513.8 917.9 L514.5 918.5 L515.3 919.1 L516 919.7 L516.8 920.3 L517.6 920.9 L518.4 921.5 L519.2 922.1 L520 922.7 L520.7 923.2 L521.5 923.8 L522.2 924.2 L522.9 924.7 L523.6 925.1 L524.2 925.5 L524.9 925.9 L525.6 926.3 L526.4 926.7 L527.1 927.1 L527.8 927.4 L528.6 927.8 L529.4 928.2 L530.1 928.5 L530.9 928.9 L531.6 929.2 L532.3 929.5 L533 929.8 L533.8 930.1 L534.5 930.4 L535.2 930.6 L536 930.9 L536.7 931.2 L537.5 931.4 L538.3 931.7 L539.1 931.9 L539.9 932.2 L540.6 932.4 L541.3 932.6 L541.9 932.7 L542.3 932.8 L542.7 933 L543.1 933 L543.4 933.1 L543.7 933.2 L544.1 933.2 L544.4 933.3 L544.7 933.3 L545.1 933.4 L545.6 933.4 L546.1 933.4 L546.6 933.4 L547 933.5 L547.4 933.5 L547.4 933.5 L547.4 934 L547.4 933.5 L547.4 933.5 L547.8 933.5 L548.2 933.4 L548.7 933.4 L549.2 933.4 L549.7 933.4 L550.1 933.3 L550.4 933.3 L550.7 933.2 L551.1 933.2 L551.4 933.1 L551.7 933 L552.1 933 L552.5 932.8 L552.9 932.7 L553.5 932.6 L554.2 932.4 L554.9 932.2 L555.7 931.9 L556.5 931.7 L557.3 931.4 L558.1 931.2 L558.8 930.9 L559.6 930.6 L560.3 930.4 L561 930.1 L561.8 929.8 L562.5 929.5 L563.2 929.2 L563.9 928.9 L564.7 928.5 L565.4 928.2 L566.2 927.8 L567 927.4 L567.7 927.1 L568.4 926.7 L569.2 926.3 L569.9 925.9 L570.6 925.5 L571.2 925.1 L571.9 924.7 L572.6 924.2 L573.3 923.8 L574.1 923.2 L574.8 922.7 L575.6 922.1 L576.4 921.5 L577.2 920.9 L578 920.3 L578.8 919.7 L579.5 919.1 L580.3 918.5 L581 917.9 L581.8 917.3 L582.5 916.7 L583.3 916 L584.1 915.3 L584.9 914.6 L585.7 913.9 L586.5 913.1 L587.3 912.4 L588.1 911.6 L588.9 910.8 L589.7 910 L590.5 909.2 L591.2 908.5 L592 907.7 L592.7 907 L593.4 906.2 L594.2 905.4 L594.9 904.6 L595.6 903.8 L596.4 902.9 L597.2 901.9 L598 901 L598.9 899.9 L599.7 898.9 L600.5 897.8 L601.3 896.8 L602.2 895.7 L603 894.7 L603.7 893.7 L604.5 892.7 L605.2 891.8 L605.9 890.8 L606.6 889.8 L607.3 888.8 L608 887.7 L608.7 886.6 L609.5 885.3 L610.3 884 L611 882.6 L611.8 881.2 L612.6 879.7 L613.4 878.2 L614.2 876.8 L615 875.2 L615.8 873.5 L616.7 871.8 L617.6 870.1 L618.4 868.4 L619.1 866.8 L619.8 865.3 L620.4 864 L620.9 863 L621.2 862.2 L621.4 861.6 L621.7 861 L621.9 860.3 L622.1 859.5 L622.5 858.6 L622.8 857.6 L623.3 856.4 L623.7 855.3 L624.2 854.2 L624.6 853 L625.1 851.9 L625.5 850.7 L626 849.4 L626.4 847.9 L626.9 846.4 L627.4 844.6 L627.9 842.7 L628.4 840.8 L628.9 838.7 L629.5 836.6 L630.1 834.4 L630.6 832.2 L631.2 830 L631.8 827.7 L632.4 825.3 L633 822.9 L633.6 820.5 L634.2 818.1 L634.8 815.7 L635.4 813.4 L635.9 811.1 L636.5 808.8 L637 806.5 L637.5 804.3 L638.1 802.1 L638.5 799.9 L639 797.8 L639.4 795.6 L639.8 793.5 L640.2 791.5 L640.6 789.5 L640.9 787.5 L641.3 785.4 L641.6 783.3 L641.9 781.2 L642.3 779 L642.6 776.6 L643 774.2 L643.3 771.8 L643.7 769.3 L644 766.7 L644.3 764.2 L644.6 761.7 L645 759.2 L645.2 756.7 L645.5 754.2 L645.8 751.7 L646.1 749.3 L646.3 746.8 L646.6 744.3 L646.8 741.9 L647 739.4 L647.2 737 L647.4 734.9 L647.6 732.8 L647.8 730.7 L647.9 728.5 L648.1 726 L648.2 723.1 L648.4 719.7 L648.6 715.9 L648.7 712.1 L648.9 708 L649.1 703.5 L649.2 698.6 L649.4 693.1 L649.5 686.9 L649.6 679.9 L649.7 672 L649.8 663.2 L649.8 653.8 L649.9 643.7 L649.9 633.2 L649.9 622.3 L650 611.2 L650 600 L650 588 L650 575 L650.1 561.3 L650.1 547.5 L650.1 534 L650.1 521.3 L650 509.8 L650 500 L649.9 492.2 L649.9 485.9 L649.8 480.7 L649.7 476.4 L649.6 472.6 L649.5 468.8 L649.3 464.8 L649.2 460.2 L649.1 455.1 L648.9 450 L648.7 444.8 L648.5 439.6 L648.3 434.5 L648.1 429.6 L647.9 424.8 L647.7 420.3 L647.5 416.1 L647.3 412.2 L647.1 408.4 L646.9 404.8 L646.7 401.3 L646.4 397.7 L646.2 394.2 L645.9 390.5 L645.6 386.7 L645.3 382.8 L645 378.9 L644.7 375 L644.4 371.1 L644 367.4 L643.7 363.9 L643.4 360.6 L643.2 357.7 L642.9 355.1 L642.7 352.8 L642.5 350.6 L642.3 348.4 L642 346.1 L641.7 343.6 L641.4 340.8 L641.1 337.6 L640.7 334.3 L640.3 330.7 L639.9 327.1 L639.5 323.5 L639.1 319.9 L638.6 316.3 L638.2 313 L637.7 309.7 L637.2 306.5 L636.7 303.3 L636.2 300.1 L635.6 297 L635.1 293.9 L634.6 290.9 L634 288 L633.5 285.1 L633 282.4 L632.4 279.7 L631.9 277.1 L631.4 274.5 L630.8 271.9 L630.2 269.3 L629.6 266.6 L628.9 263.8 L628.2 261 L627.5 258.1 L626.8 255.3 L626 252.4 L625.3 249.6 L624.5 246.8 L623.7 244 L622.8 241.2 L621.9 238.3 L621 235.4 L620 232.6 L619.1 229.7 L618.1 227.1 L617.3 224.6 L616.5 222.3 L615.8 220.4 L615.2 218.7 L614.7 217.2 L614.2 215.9 L613.7 214.6 L613.2 213.3 L612.6 212 L612.1 210.5 L611.5 208.9 L610.9 207.4 L610.4 205.9 L609.8 204.5 L609.3 203.1 L608.7 201.6 L608.1 200.1 L607.4 198.6 L606.6 196.9 L605.7 195.2 L604.7 193.3 L603.6 191.3 L602.5 189.3 L601.4 187.2 L600.3 185.2 L599.2 183.1 L598.3 181.1 L597.3 179.2 L596.5 177.3 L595.6 175.4 L594.8 173.6 L593.9 171.8 L593.1 170 L592.2 168.2 L591.2 166.3 L590.1 164.3 L589 162.3 L587.9 160.3 L586.8 158.4 L585.8 156.5 L584.7 154.8 L583.8 153.2 L582.9 151.9 L582.1 150.8 L581.4 149.7 L580.6 148.7 L579.8 147.7 L578.9 146.6 L578 145.5 L577 144.3 L576.1 143 L575.1 141.7 L574.2 140.5 L573.3 139.3 L572.4 138.1 L571.4 136.9 L570.5 135.7 L569.5 134.6 L568.5 133.4 L567.3 132.2 L566.1 130.9 L564.9 129.6 L563.7 128.3 L562.5 127.1 L561.4 125.9 L560.3 124.8 L559.4 123.8 L558.5 122.9 L557.8 122.1 L557.1 121.4 L556.5 120.7 L555.9 120.1 L555.4 119.6 L554.9 119.1 L554.3 118.6 L553.9 118.1 L553.4 117.7 L553 117.4 L552.7 117.1 L547.4 114.5" stroke-width="1"/>
<path d="M547.4 103.5L547.4 292" stroke-width="1.1"/>
<path d="M547.4 292L547.4 687" stroke-width="2"/>
<path d="M547.4 687L547.4 951" stroke-width="1.1"/>
<path d="M467.1 233.5A9.5 9.8 0 0 0 461.3 253.1"/>
<path d="M438.1 475.2A9.5 9.8 0 0 0 437.8 494.8"/>
<path d="M437.7 525.2A9.5 9.8 0 0 0 437.7 544.8"/>
<path d="M437.8 575.2A9.5 9.8 0 0 0 437.8 594.8"/>
<path d="M437.9 639.2A9.5 9.8 0 0 0 438 658.8"/>
<path d="M627.7 233.5A9.5 9.8 0 0 1 633.5 253.1"/>
<path d="M644.8 310.2A9.5 9.8 0 0 1 647.3 329.8"/>
<path d="M650.5 361.2A9.5 9.8 0 0 1 652.2 380.8"/>
<path d="M655 425.8A9.5 9.8 0 0 1 655.7 445.4"/>
<path d="M656.7 475.2A9.5 9.8 0 0 1 657 494.8"/>
<path d="M657.1 525.2A9.5 9.8 0 0 1 657.1 544.8"/>
<path d="M657 575.2A9.5 9.8 0 0 1 657 594.8"/>
<path d="M656.9 639.2A9.5 9.8 0 0 1 656.8 658.8"/>
<!-- bow -->
<path d="M242.3 104.8 L241.5 104.5 L241 104.7 L240.5 104.8 L240 104.9 L239.4 105.1 L238.9 105.2 L238.4 105.4 L237.9 105.6 L237.4 105.7 L237 105.9 L236.6 106 L236.2 106.2 L235.8 106.3 L235.3 106.5 L234.8 106.8 L234.2 107 L233.6 107.3 L233.1 107.6 L232.5 107.8 L232 108.1 L231.5 108.4 L231 108.6 L230.6 108.9 L230.2 109.2 L229.7 109.5 L229.3 109.8 L228.8 110.2 L228.3 110.6 L227.7 111 L227.1 111.5 L226.5 112 L225.9 112.5 L225.3 113.1 L224.6 113.6 L224 114.2 L223.3 114.8 L222.7 115.4 L222.1 115.9 L221.5 116.5 L221 117.1 L220.4 117.7 L219.8 118.4 L219.2 119.1 L218.6 119.8 L218 120.5 L217.4 121.2 L216.9 121.8 L216.3 122.5 L215.8 123.1 L215.4 123.8 L214.9 124.4 L214.4 125 L214 125.6 L213.5 126.3 L213.1 126.9 L212.7 127.5 L212.3 128.1 L211.9 128.7 L211.5 129.3 L211.2 129.9 L210.8 130.5 L210.4 131.1 L210 131.8 L209.7 132.4 L209.3 132.9 L209 133.5 L208.7 134.1 L208.3 134.8 L207.9 135.5 L207.5 136.3 L207 137.2 L206.5 138.1 L206 139.1 L202.5 140.6 L238.2 160.2 L242.3 162.4Z" stroke="none" fill="url(#grate)"/>
<path d="M249.3 104.8 L250.1 104.5 L250.6 104.7 L251.1 104.8 L251.6 104.9 L252.2 105.1 L252.7 105.2 L253.2 105.4 L253.7 105.6 L254.2 105.7 L254.6 105.9 L255 106 L255.4 106.2 L255.8 106.3 L256.3 106.5 L256.8 106.8 L257.4 107 L258 107.3 L258.5 107.6 L259.1 107.8 L259.6 108.1 L260.1 108.4 L260.6 108.6 L261 108.9 L261.4 109.2 L261.9 109.5 L262.3 109.8 L262.8 110.2 L263.3 110.6 L263.9 111 L264.5 111.5 L265.1 112 L265.7 112.5 L266.3 113.1 L267 113.6 L267.6 114.2 L268.3 114.8 L268.9 115.4 L269.5 115.9 L270.1 116.5 L270.6 117.1 L271.2 117.7 L271.8 118.4 L272.4 119.1 L273 119.8 L273.6 120.5 L274.2 121.2 L274.7 121.8 L275.3 122.5 L275.8 123.1 L276.2 123.8 L276.7 124.4 L277.2 125 L277.6 125.6 L278.1 126.3 L278.5 126.9 L278.9 127.5 L279.3 128.1 L279.7 128.7 L280.1 129.3 L280.4 129.9 L280.8 130.5 L281.2 131.1 L281.6 131.8 L281.9 132.4 L282.3 132.9 L282.6 133.5 L282.9 134.1 L283.3 134.8 L283.7 135.5 L284.1 136.3 L284.6 137.2 L285.1 138.1 L285.6 139.1 L289.1 140.6 L253.4 160.2 L249.3 162.4Z" stroke="none" fill="url(#grate)"/>
<path d="M241.5 104.5 L241 104.7 L240.5 104.8 L240 104.9 L239.4 105.1 L238.9 105.2 L238.4 105.4 L237.9 105.6 L237.4 105.7 L237 105.9 L236.6 106 L236.2 106.2 L235.8 106.3 L235.3 106.5 L234.8 106.8 L234.2 107 L233.6 107.3 L233.1 107.6 L232.5 107.8 L232 108.1 L231.5 108.4 L231 108.6 L230.6 108.9 L230.2 109.2 L229.7 109.5 L229.3 109.8 L228.8 110.2 L228.3 110.6 L227.7 111 L227.1 111.5 L226.5 112 L225.9 112.5 L225.3 113.1 L224.6 113.6 L224 114.2 L223.3 114.8 L222.7 115.4 L222.1 115.9 L221.5 116.5 L221 117.1 L220.4 117.7 L219.8 118.4 L219.2 119.1 L218.6 119.8 L218 120.5 L217.4 121.2 L216.9 121.8 L216.3 122.5 L215.8 123.1 L215.4 123.8 L214.9 124.4 L214.4 125 L214 125.6 L213.5 126.3 L213.1 126.9 L212.7 127.5 L212.3 128.1 L211.9 128.7 L211.5 129.3 L211.2 129.9 L210.8 130.5 L210.4 131.1 L210 131.8 L209.7 132.4 L209.3 132.9 L209 133.5 L208.7 134.1 L208.3 134.8 L207.9 135.5 L207.5 136.3 L207 137.2 L206.5 138.1 L206 139.1 L202.5 140.6" stroke-width="1" stroke="#111"/>
<path d="M250.1 104.5 L250.6 104.7 L251.1 104.8 L251.6 104.9 L252.2 105.1 L252.7 105.2 L253.2 105.4 L253.7 105.6 L254.2 105.7 L254.6 105.9 L255 106 L255.4 106.2 L255.8 106.3 L256.3 106.5 L256.8 106.8 L257.4 107 L258 107.3 L258.5 107.6 L259.1 107.8 L259.6 108.1 L260.1 108.4 L260.6 108.6 L261 108.9 L261.4 109.2 L261.9 109.5 L262.3 109.8 L262.8 110.2 L263.3 110.6 L263.9 111 L264.5 111.5 L265.1 112 L265.7 112.5 L266.3 113.1 L267 113.6 L267.6 114.2 L268.3 114.8 L268.9 115.4 L269.5 115.9 L270.1 116.5 L270.6 117.1 L271.2 117.7 L271.8 118.4 L272.4 119.1 L273 119.8 L273.6 120.5 L274.2 121.2 L274.7 121.8 L275.3 122.5 L275.8 123.1 L276.2 123.8 L276.7 124.4 L277.2 125 L277.6 125.6 L278.1 126.3 L278.5 126.9 L278.9 127.5 L279.3 128.1 L279.7 128.7 L280.1 129.3 L280.4 129.9 L280.8 130.5 L281.2 131.1 L281.6 131.8 L281.9 132.4 L282.3 132.9 L282.6 133.5 L282.9 134.1 L283.3 134.8 L283.7 135.5 L284.1 136.3 L284.6 137.2 L285.1 138.1 L285.6 139.1 L289.1 140.6" stroke-width="1" stroke="#111"/>
<path d="M242.3 104.8 L242.3 147" stroke-width="0.9" stroke="#111"/>
<path d="M249.3 104.8 L249.3 147" stroke-width="0.9" stroke="#111"/>
<path d="M201.5 140 L238 160.3 L245.8 163.9 L253.6 160.3 L290.1 140" stroke-width="1.1" stroke="#111"/>
<path d="M203.5 142.8 L238.6 162" stroke-width="0.9"/>
<path d="M288.1 142.8 L253 162" stroke-width="0.9"/>
<circle cx="245.8" cy="152.6" r="6.6" stroke-width="1.1" fill="#fff" />
<circle cx="245.8" cy="152.6" r="4.3" stroke-width="0.9" />
<circle cx="245.8" cy="152.6" r="2.3" stroke-width="0.9" />
<path d="M221.6 93.4 L225 90.6 L231 92.6 L229.2 101 L225.5 112.9Z" stroke-width="1" fill="#fff"/>
<path d="M232 89.5 L238.5 87.6 L245 107 L241.5 103 L236.2 93.5Z" stroke-width="1" fill="#fff"/>
<path d="M225 90.6 L232 89.5 L236.2 93.5" stroke-width="0.9"/>
<path d="M231 92.6 L232 89.5" stroke-width="0.9"/>
<path d="M230.7 92.8 L237.8 118.7" stroke-width="0.9"/>
<path d="M233 96 L238.8 118" stroke-width="0.7"/>
<path d="M229.2 101 L233.6 109" stroke-width="0.7"/>
<path d="M227 107.5 L231.5 98.5" stroke-width="0.7"/>
<circle cx="195.5" cy="181.5" r="3.6" />
<circle cx="190.2" cy="196.5" r="3.6" />
<path d="M192.1 180.3L186.8 195.3"/>
<path d="M198.9 182.7L193.6 197.7"/>
<circle cx="296.1" cy="181.5" r="3.6" />
<circle cx="301.4" cy="196.5" r="3.6" />
<path d="M292.7 182.7L298 197.7"/>
<path d="M299.5 180.3L304.8 195.3"/>
<path d="M181 197L310.6 197"/>
<rect x="198.9" y="127.7" width="4.6" height="15" rx="1" transform="rotate(33 201.2 135.2)"/>
<rect x="199.7" y="129.2" width="3" height="10.5" rx="0.8" transform="rotate(33 201.2 135.2)"/>
<rect x="288.1" y="127.7" width="4.6" height="15" rx="1" transform="rotate(-33 290.4 135.2)"/>
<rect x="288.9" y="129.2" width="3" height="10.5" rx="0.8" transform="rotate(-33 290.4 135.2)"/>
<rect x="171.3" y="193" width="4.6" height="15" rx="1" transform="rotate(17 173.6 200.5)"/>
<rect x="172.1" y="194.5" width="3" height="10.5" rx="0.8" transform="rotate(17 173.6 200.5)"/>
<rect x="315.7" y="193" width="4.6" height="15" rx="1" transform="rotate(-17 318 200.5)"/>
<rect x="316.5" y="194.5" width="3" height="10.5" rx="0.8" transform="rotate(-17 318 200.5)"/>
<rect x="155.4" y="824.4" width="4.6" height="15" rx="1" transform="rotate(-19 157.7 831.9)"/>
<rect x="156.2" y="825.9" width="3" height="10.5" rx="0.8" transform="rotate(-19 157.7 831.9)"/>
<rect x="331.6" y="824.4" width="4.6" height="15" rx="1" transform="rotate(19 333.9 831.9)"/>
<rect x="332.4" y="825.9" width="3" height="10.5" rx="0.8" transform="rotate(19 333.9 831.9)"/>
<rect x="177.3" y="881" width="4.6" height="15" rx="1" transform="rotate(-40 179.6 888.5)"/>
<rect x="178.1" y="882.5" width="3" height="10.5" rx="0.8" transform="rotate(-40 179.6 888.5)"/>
<rect x="309.7" y="881" width="4.6" height="15" rx="1" transform="rotate(40 312 888.5)"/>
<rect x="310.5" y="882.5" width="3" height="10.5" rx="0.8" transform="rotate(40 312 888.5)"/>
<path d="M202 141 L200.2 145.2 L198.5 149.4 L196.9 153.6 L195.2 157.7 L193.5 161.9 L191.9 166.1 L190.1 170.3 L188.3 174.5 L186.6 178.7 L185 182.9 L183.6 187.1 L182.3 191.2 L181.4 195.4 L180.2 199.6 L179 203.8 L177.9 208 L176.8 212.2 L175.7 216.4 L174.7 220.5 L173.6 224.7 L172.5 228.9 L171.4 233.1 L170.3 237.3 L169.1 241.5 L167.9 245.7 L166.9 249.8 L165.8 254 L164.9 258.2 L164 262.4 L163.2 266.6 L162.3 270.8 L161.4 275 L160.5 279.2 L159.7 283.3 L159 287.5 L158.4 291.7 L157.8 295.9 L157.2 300.1 L156.6 304.3 L156 308.5 L155.4 312.6 L154.7 316.8 L154.1 321 L153.5 325.2 L152.9 329.4 L152.4 333.6 L151.8 337.8 L151.1 341.9 L150.5 346.1 L149.9 350.3 L149.5 354.5 L149.1 358.7 L148.7 362.9 L148.4 367.1 L148.1 371.3 L147.8 375.4 L147.5 379.6 L147.2 383.8 L146.9 388" stroke-width="0.9"/>
<path d="M289.6 141 L291.4 145.2 L293.1 149.4 L294.7 153.6 L296.4 157.7 L298.1 161.9 L299.7 166.1 L301.5 170.3 L303.3 174.5 L305 178.7 L306.6 182.9 L308 187.1 L309.3 191.2 L310.2 195.4 L311.4 199.6 L312.6 203.8 L313.7 208 L314.8 212.2 L315.9 216.4 L316.9 220.5 L318 224.7 L319.1 228.9 L320.2 233.1 L321.3 237.3 L322.5 241.5 L323.7 245.7 L324.7 249.8 L325.8 254 L326.7 258.2 L327.6 262.4 L328.4 266.6 L329.3 270.8 L330.2 275 L331.1 279.2 L331.9 283.3 L332.6 287.5 L333.2 291.7 L333.8 295.9 L334.4 300.1 L335 304.3 L335.6 308.5 L336.2 312.6 L336.9 316.8 L337.5 321 L338.1 325.2 L338.7 329.4 L339.2 333.6 L339.8 337.8 L340.5 341.9 L341.1 346.1 L341.7 350.3 L342.1 354.5 L342.5 358.7 L342.9 362.9 L343.2 367.1 L343.5 371.3 L343.8 375.4 L344.1 379.6 L344.4 383.8 L344.7 388" stroke-width="0.9"/>
<!-- coach roof -->
<path d="M166.4 386 L166.6 383.8 L166.9 380.7 L167.2 377.1 L167.6 373.1 L168 369 L168.5 365 L169 361.1 L169.6 357.1 L170.2 353.1 L170.8 348.9 L171.4 344.5 L172 340 L172.6 335.2 L173.1 329.9 L173.7 324.6 L174.2 319.3 L174.8 314.4 L175.2 310 L175.6 306.2 L175.9 302.7 L176.3 299.5 L176.5 296.7 L176.8 294.2 L177 292 L177.2 290.2 L177.3 288.9 L177.4 287.9 L177.5 287.1 L177.5 286.5 L177.6 286Q178 275.4 189.5 275.4L302.1 275.4Q313.6 275.4 314 286 L314 286 L314.1 286.5 L314.1 287.1 L314.2 287.9 L314.3 288.9 L314.4 290.2 L314.6 292 L314.8 294.2 L315.1 296.7 L315.3 299.5 L315.7 302.7 L316 306.2 L316.4 310 L316.8 314.4 L317.4 319.3 L317.9 324.6 L318.5 329.9 L319 335.2 L319.6 340 L320.2 344.5 L320.8 348.9 L321.4 353.1 L322 357.1 L322.6 361.1 L323.1 365 L323.6 369 L324 373.1 L324.4 377.1 L324.7 380.7 L325 383.8 L325.2 386"/>
<path d="M175.7 305L315.9 305"/>
<path d="M193 275.6 L204.5 296 L206.5 298 L229 298 L229 275.6"/>
<path d="M298.6 275.6 L287.1 296 L285.1 298 L262.6 298 L262.6 275.6"/>
<path d="M196 275.6 L206.6 294.7 L208 296 L227.4 296 L227.4 275.6" stroke-width="0.9"/>
<path d="M295.6 275.6 L285 294.7 L283.6 296 L264.2 296 L264.2 275.6" stroke-width="0.9"/>
<path d="M232 275.6L232 305"/>
<path d="M260 275.6L260 305"/>
<path d="M233.6 275.6L233.6 305" stroke-width="0.7"/>
<path d="M258.4 275.6L258.4 305" stroke-width="0.7"/>
<rect x="234.4" y="277.6" width="23.2" height="19.6" stroke-linejoin="miter" />
<path d="M234.4 277.6L257.6 297.2" stroke-width="0.9"/>
<path d="M257.6 277.6L234.4 297.2" stroke-width="0.9"/>
<rect x="235.8" y="298.6" width="20.4" height="3.4" stroke-width="1.3" stroke-linejoin="miter" />
<circle cx="190" cy="341" r="12.5" />
<circle cx="190" cy="341" r="8.6" />
<circle cx="302" cy="341" r="12.5" />
<circle cx="302" cy="341" r="8.6" />
<!-- wheelhouse -->
<path d="M166.1 432 L166.1 428.3 L166.1 423 L166.1 416.8 L166.1 410.4 L166.1 404.5 L166.1 400 L166.1 396.8 L166.1 394.4 L166.1 392.5 L166.2 391 L166.2 389.6 L166.4 388 L166.6 386.4 L166.9 384.8 L167.2 383.4 L167.5 382.1 L168 380.8 L168.5 379.5 L169.1 378.3 L169.8 377.1 L170.6 376 L171.5 375 L172.4 374 L173.5 373 L174.6 372.1 L175.7 371.3 L176.9 370.5 L178.3 369.8 L180 369.1 L182 368.3 L184.4 367.5 L187.1 366.7 L190.2 365.9 L193.4 365.1 L196.7 364.3 L200 363.6 L203.4 362.9 L207 362.2 L210.6 361.5 L214.4 360.9 L218.2 360.3 L222 359.8 L226.2 359.4 L230.7 359 L235.4 358.7 L239.7 358.4 L243.4 358.2 L246 358"/>
<path d="M325.5 432 L325.5 428.3 L325.5 423 L325.5 416.8 L325.5 410.4 L325.5 404.5 L325.5 400 L325.5 396.8 L325.5 394.4 L325.5 392.5 L325.4 391 L325.4 389.6 L325.2 388 L325 386.4 L324.7 384.8 L324.4 383.4 L324.1 382.1 L323.6 380.8 L323.1 379.5 L322.5 378.3 L321.8 377.1 L321 376 L320.1 375 L319.2 374 L318.1 373 L317 372.1 L315.9 371.3 L314.7 370.5 L313.3 369.8 L311.6 369.1 L309.6 368.3 L307.2 367.5 L304.5 366.7 L301.4 365.9 L298.2 365.1 L294.9 364.3 L291.6 363.6 L288.2 362.9 L284.6 362.2 L281 361.5 L277.2 360.9 L273.4 360.3 L269.6 359.8 L265.4 359.4 L260.9 359 L256.2 358.7 L251.9 358.4 L248.2 358.2 L245.6 358"/>
<path d="M164.2 432 L164.2 428.3 L164.2 423 L164.2 416.8 L164.2 410.4 L164.2 404.5 L164.2 400 L164.2 396.8 L164.2 394.4 L164.2 392.5 L164.3 390.9 L164.3 389.4 L164.5 387.8 L164.7 386.1 L165 384.5 L165.3 383 L165.7 381.5 L166.2 380.1 L166.8 378.7 L167.5 377.4 L168.2 376.1 L169.1 374.9 L170 373.7 L171.1 372.6 L172.3 371.6 L173.4 370.6 L174.7 369.7 L176 368.9 L177.5 368.1 L179.3 367.3 L181.4 366.5 L183.8 365.7 L186.6 364.9 L189.7 364.1 L192.9 363.3 L196.2 362.5 L199.6 361.7 L203 361 L206.6 360.3 L210.3 359.6 L214.1 359 L217.9 358.4 L221.8 357.9 L226 357.5 L230.6 357.1 L235.2 356.8 L239.6 356.5 L243.2 356.3 L245.8 356.1" stroke-width="0.9"/>
<path d="M327.4 432 L327.4 428.3 L327.4 423 L327.4 416.8 L327.4 410.4 L327.4 404.5 L327.4 400 L327.4 396.8 L327.4 394.4 L327.4 392.5 L327.3 390.9 L327.3 389.4 L327.1 387.8 L326.9 386.1 L326.6 384.5 L326.3 383 L325.9 381.5 L325.4 380.1 L324.8 378.7 L324.1 377.4 L323.4 376.1 L322.5 374.9 L321.6 373.7 L320.5 372.6 L319.3 371.6 L318.2 370.6 L316.9 369.7 L315.6 368.9 L314.1 368.1 L312.3 367.3 L310.2 366.5 L307.8 365.7 L305 364.9 L301.9 364.1 L298.7 363.3 L295.4 362.5 L292 361.7 L288.6 361 L285 360.3 L281.3 359.6 L277.5 359 L273.7 358.4 L269.8 357.9 L265.6 357.5 L261 357.1 L256.4 356.8 L252 356.5 L248.4 356.3 L245.8 356.1" stroke-width="0.9"/>
<path d="M246 356.6 L243.4 356.7 L239.7 356.9 L235.4 357.1 L230.7 357.3 L226.2 357.6 L222 358 L218.1 358.4 L214.3 358.9 L210.4 359.4 L206.7 360 L203.2 360.6 L200 361.2 L197 361.9 L194.2 362.6 L191.6 363.3 L189.2 364.1 L187 364.9 L185 365.6 L183.2 366.3 L181.8 366.9 L180.5 367.5 L179.3 368.1 L178.1 368.9 L176.7 369.8 L175.1 370.9 L173.5 372.1 L171.7 373.4 L170 374.7 L168.4 376.1 L167 377.5 L165.7 378.9 L164.5 380.3 L163.4 381.7 L162.3 383.1 L161.4 384.6 L160.5 386 L159.7 387.4 L159 388.6 L158.3 389.9 L157.7 391.3 L157.2 392.8 L156.7 394.5 L156.2 396.4 L155.8 398.5 L155.5 400.7 L155.2 403.1 L154.9 405.5 L154.6 408 L154.3 410.7 L154.1 413.6 L153.9 416.6 L153.7 419.6 L153.6 422.4 L153.4 425 L153.3 427.3 L153.2 429.3 L153.1 431.2 L153.1 433 L153 434.9 L152.8 437 L152.6 439.2 L152.4 441.6 L152.1 443.9 L151.8 446.3 L151.4 448.7 L151 451 L150.5 453.3 L149.8 455.5 L149.2 457.8 L148.4 459.9 L147.7 462 L147 464 L146.3 465.9 L145.5 467.7 L144.8 469.4 L144 471 L143.3 472.5 L142.7 474 L142.1 475.3 L141.6 476.5 L141.2 477.6 L140.7 478.6 L140.4 479.8 L140 481 L139.7 482.5 L139.4 484.2 L139.1 485.9 L138.9 487.6 L138.7 489 L138.6 490 L138 502.1 L137.9 515.4 L137.8 529.6 L137.8 544.4 L137.7 559.2 L137.7 573.7 L137.7 587.4 L137.7 600 L137.7 611.7 L137.8 623 L138.2 633.9 L138.5 644.4 L138.8 654.2 L139.2 663.5 L139.5 672.1 L139.8 680 L140.2 686.9 L140.5 692.9 L140.8 698.2 L141.1 702.8 L141.3 707.1 L141.7 711.3 L142 715.4 L142.4 719.7 L142.8 724.1 L143.3 728.4 L143.8 732.4 L144.3 736.4 L144.8 740.3 L145.3 744.3 L145.8 748.2 L146.3 752.3 L146.9 756.5 L147.5 760.7 L148.1 764.9 L148.8 769.2 L149.5 773.4 L150.2 777.6 L151 781.8 L151.7 785.9 L152.5 790.1 L153.4 794.2 L154.2 798.2 L155.1 802.3 L155.9 806.3 L156.9 810.4 L157.8 814.4 L158.9 818.4 L160 822.6 L161.2 826.8 L162.4 831.1 L163.7 835.4 L165 839.5 L166.3 843.5 L167.5 847.3 L168.8 850.8 L170 854 L171.2 856.9 L172.3 859.6 L173.4 862.1 L174.6 864.6 L175.8 867 L177.1 869.4 L178.4 871.9 L179.8 874.4 L181.3 876.9 L182.9 879.4 L184.5 881.9 L186.2 884.4 L187.8 886.7 L189.4 889.1 L191 891.3 L192.5 893.3 L194 895.3 L195.4 897.2 L196.8 899" stroke-width="1"/>
<path d="M245.6 356.6 L248.2 356.7 L251.9 356.9 L256.2 357.1 L260.9 357.3 L265.4 357.6 L269.6 358 L273.5 358.4 L277.3 358.9 L281.2 359.4 L284.9 360 L288.4 360.6 L291.6 361.2 L294.6 361.9 L297.4 362.6 L300 363.3 L302.4 364.1 L304.6 364.9 L306.6 365.6 L308.4 366.3 L309.8 366.9 L311.1 367.5 L312.3 368.1 L313.5 368.9 L314.9 369.8 L316.5 370.9 L318.1 372.1 L319.9 373.4 L321.6 374.7 L323.2 376.1 L324.6 377.5 L325.9 378.9 L327.1 380.3 L328.2 381.7 L329.3 383.1 L330.2 384.6 L331.1 386 L331.9 387.4 L332.6 388.6 L333.3 389.9 L333.9 391.3 L334.4 392.8 L334.9 394.5 L335.4 396.4 L335.8 398.5 L336.1 400.7 L336.4 403.1 L336.7 405.5 L337 408 L337.3 410.7 L337.5 413.6 L337.7 416.6 L337.9 419.6 L338 422.4 L338.2 425 L338.3 427.3 L338.4 429.3 L338.5 431.2 L338.5 433 L338.6 434.9 L338.8 437 L339 439.2 L339.2 441.6 L339.5 443.9 L339.8 446.3 L340.2 448.7 L340.6 451 L341.1 453.3 L341.8 455.5 L342.4 457.8 L343.2 459.9 L343.9 462 L344.6 464 L345.3 465.9 L346.1 467.7 L346.8 469.4 L347.6 471 L348.3 472.5 L348.9 474 L349.5 475.3 L350 476.5 L350.4 477.6 L350.9 478.6 L351.2 479.8 L351.6 481 L351.9 482.5 L352.2 484.2 L352.5 485.9 L352.7 487.6 L352.9 489 L353 490 L353.6 502.1 L353.7 515.4 L353.8 529.6 L353.8 544.4 L353.9 559.2 L353.9 573.7 L353.9 587.4 L353.9 600 L353.9 611.7 L353.8 623 L353.4 633.9 L353.1 644.4 L352.8 654.2 L352.4 663.5 L352.1 672.1 L351.8 680 L351.4 686.9 L351.1 692.9 L350.8 698.2 L350.5 702.8 L350.3 707.1 L349.9 711.3 L349.6 715.4 L349.2 719.7 L348.8 724.1 L348.3 728.4 L347.8 732.4 L347.3 736.4 L346.8 740.3 L346.3 744.3 L345.8 748.2 L345.3 752.3 L344.7 756.5 L344.1 760.7 L343.5 764.9 L342.8 769.2 L342.1 773.4 L341.4 777.6 L340.6 781.8 L339.9 785.9 L339.1 790.1 L338.2 794.2 L337.4 798.2 L336.5 802.3 L335.7 806.3 L334.7 810.4 L333.8 814.4 L332.7 818.4 L331.6 822.6 L330.4 826.8 L329.2 831.1 L327.9 835.4 L326.6 839.5 L325.3 843.5 L324.1 847.3 L322.8 850.8 L321.6 854 L320.4 856.9 L319.3 859.6 L318.2 862.1 L317 864.6 L315.8 867 L314.5 869.4 L313.2 871.9 L311.8 874.4 L310.3 876.9 L308.7 879.4 L307.1 881.9 L305.4 884.4 L303.8 886.7 L302.2 889.1 L300.6 891.3 L299.1 893.3 L297.6 895.3 L296.2 897.2 L294.8 899" stroke-width="1"/>
<path d="M209.7 365.5 L216 377 L276.6 377 L283.6 365.5"/>
<path d="M212.6 366.2 L217.5 375.4 L275.1 375.4 L280.4 366.2" stroke-width="0.7"/>
<rect x="220.5" y="369.3" width="6.5" height="3.6" transform="rotate(-18 223.7 371)" stroke-width="0.7"/>
<rect x="229.2" y="367.8" width="8" height="7.4" stroke-width="1" stroke-linejoin="miter" />
<rect x="241.4" y="367.8" width="9.2" height="7.8" stroke-width="1" stroke-linejoin="miter" />
<rect x="255.8" y="368.6" width="5" height="4" stroke-width="0.9" stroke-linejoin="miter" />
<circle cx="266" cy="372" r="2.4" stroke-width="0.9" />
<path d="M234.8 382.4L257 382.4" stroke-width="1.6" stroke="#111"/>
<path d="M245.8 377L245.8 382.4"/>
<path d="M166.2 432.3 L192.2 432.3 L192.2 418.6 L299.8 418.6 L299.8 432.3 L325.8 432.3" stroke-width="2.3" stroke="#111" stroke-linejoin="miter" stroke-linecap="butt"/>
<path d="M163.4 429.4 L190 429.4" stroke-width="0.9"/>
<path d="M328.2 429.4 L301.6 429.4" stroke-width="0.9"/>
<path d="M166.1 405.5A24 24 0 0 1 190 429.4" stroke-width="0.9"/>
<path d="M325.5 405.5A24 24 0 0 0 301.6 429.4" stroke-width="0.9"/>
<rect x="194.6" y="419.6" width="16.4" height="12" stroke-width="0.9" stroke-linejoin="miter" />
<rect x="280.6" y="419.6" width="16.4" height="12" stroke-width="0.9" stroke-linejoin="miter" />
<path d="M206 433.5 L210 435.5" stroke-width="0.7"/>
<path d="M285.6 433.5 L281.6 435.5" stroke-width="0.7"/>
<circle cx="245.8" cy="417" r="5" fill="#fff" />
<circle cx="205.8" cy="371.1" r="1.3" stroke="none" fill="#111" />
<circle cx="189.6" cy="377.8" r="1.3" stroke="none" fill="#111" />
<circle cx="185.3" cy="384.6" r="1.3" stroke="none" fill="#111" />
<circle cx="184.2" cy="391.3" r="1.3" stroke="none" fill="#111" />
<circle cx="182.4" cy="400.7" r="1.3" stroke="none" fill="#111" />
<circle cx="218" cy="369.2" r="1.3" stroke="none" fill="#111" />
<circle cx="272.7" cy="369.2" r="1.3" stroke="none" fill="#111" />
<circle cx="288" cy="370.6" r="1.3" stroke="none" fill="#111" />
<circle cx="185.5" cy="320" r="1.3" stroke="none" fill="#111" />
<circle cx="297" cy="294.6" r="1.3" stroke="none" fill="#111" />
<circle cx="297.3" cy="313" r="1.3" stroke="none" fill="#111" />
<text x="210.4" y="394.1" font-size="8.7" text-anchor="middle" fill="#222" stroke="none" transform="rotate(180 210.4 394.1)" textLength="38.4" lengthAdjust="spacingAndGlyphs" font-weight="bold">WHEELHOUSE</text>
<text x="208.2" y="404.5" font-size="8.7" text-anchor="middle" fill="#222" stroke="none" transform="rotate(180 208.2 404.5)" textLength="42.8" lengthAdjust="spacingAndGlyphs" font-weight="bold">KORMILARNICA</text>
<text x="294.4" y="376.3" font-size="8.4" text-anchor="middle" fill="#333" stroke="none" transform="rotate(-90 294.4 376.3)" textLength="9.2" lengthAdjust="spacingAndGlyphs">(1)</text>
<!-- cabin walls -->
<path d="M163.5 429.4 L163.5 434.1 L163.5 439.9 L163.5 447.2 L163.5 456.1 L163.5 467 L163.5 480 L163.5 496.4 L163.5 516.3 L163.4 538.2 L163.4 560.4 L163.4 581.5 L163.5 600 L163.6 615.9 L163.8 630.4 L163.9 643.8 L164.2 656.3 L164.4 668.3 L164.8 680 L165.2 691.4 L165.7 702.1 L166.3 712.3 L166.9 722 L167.5 731.2 L168.2 740 L169 748.6 L169.8 757 L170.7 765 L171.6 772.1 L172.3 778.1 L172.8 782.5"/>
<path d="M328.1 429.4 L328.1 434.1 L328.1 439.9 L328.1 447.2 L328.1 456.1 L328.1 467 L328.1 480 L328.1 496.4 L328.1 516.3 L328.2 538.2 L328.2 560.4 L328.2 581.5 L328.1 600 L328 615.9 L327.8 630.4 L327.7 643.8 L327.4 656.3 L327.2 668.3 L326.8 680 L326.4 691.4 L325.9 702.1 L325.3 712.3 L324.7 722 L324.1 731.2 L323.4 740 L322.6 748.6 L321.8 757 L320.9 765 L320 772.1 L319.3 778.1 L318.8 782.5"/>
<path d="M166.6 432.3 L166.6 436.7 L166.6 442 L166.6 448.7 L166.6 457 L166.6 467.3 L166.6 480 L166.6 496.3 L166.6 516.1 L166.5 538 L166.5 560.3 L166.5 581.5 L166.6 600 L166.7 615.9 L166.8 630.4 L167 643.8 L167.2 656.3 L167.5 668.3 L167.9 680 L168.4 691.4 L169 702.2 L169.6 712.4 L170.3 722.1 L171 731.3 L171.7 740 L172.4 748.5 L173.3 756.7 L174.1 764.5 L174.9 771.4 L175.5 777.2 L176 781.5"/>
<path d="M325 432.3 L325 436.7 L325 442 L325 448.7 L325 457 L325 467.3 L325 480 L325 496.3 L325 516.1 L325.1 538 L325.1 560.3 L325.1 581.5 L325 600 L324.9 615.9 L324.8 630.4 L324.6 643.8 L324.4 656.3 L324.1 668.3 L323.7 680 L323.2 691.4 L322.6 702.2 L322 712.4 L321.3 722.1 L320.6 731.3 L319.9 740 L319.2 748.5 L318.3 756.7 L317.5 764.5 L316.7 771.4 L316.1 777.2 L315.6 781.5"/>
<path d="M213.6 418.6 L213.6 497.6 L278.6 497.6 L278.6 418.6" stroke-width="1.6" stroke="#111"/>
<path d="M221.3 422.8q10.2 1.6 20.5 0q1.3 6.3 0 12.6q-10.2 -1.6 -20.5 0q-1.3 -6.3 0 -12.6z" stroke-width="0.9"/>
<path d="M250.2 422.8q10.2 1.6 20.5 0q1.3 6.3 0 12.6q-10.2 -1.6 -20.5 0q-1.3 -6.3 0 -12.6z" stroke-width="0.9"/>
<text x="271.4" y="448.6" font-size="8.4" text-anchor="middle" fill="#333" stroke="none" transform="rotate(-90 271.4 448.6)" textLength="9.3" lengthAdjust="spacingAndGlyphs">(2)</text>
<text x="196.4" y="483" font-size="8.6" text-anchor="middle" fill="#222" stroke="none" transform="rotate(-90 196.4 483)" textLength="12.7" lengthAdjust="spacingAndGlyphs">P(2)</text>
<path d="M336.8 448L336.8 477.9" stroke-width="3.1" stroke="#1c1c1c" stroke-linecap="butt"/>
<path d="M332.4 476.9 L341.2 476.9 L336.8 485.5Z" stroke-width="0.6" stroke="#111" fill="#111"/>
<!-- bathroom / stairs / galley -->
<path d="M163 527.5L263.4 527.5"/>
<path d="M166 529.4L261.6 529.4"/>
<path d="M263.4 527.5L263.4 549.6"/>
<path d="M261.6 529.4L261.6 612.6"/>
<path d="M263.4 549.6L329 549.6"/>
<path d="M263.4 551.4L326 551.4"/>
<path d="M227.8 529.4L227.8 621.7"/>
<path d="M229.7 529.4L229.7 612.6"/>
<path d="M263.4 551.4L263.4 640"/>
<path d="M229.7 537.7L261.6 537.7" stroke-width="0.9"/>
<path d="M229.7 546L261.6 546" stroke-width="0.9"/>
<path d="M229.7 554.3L261.6 554.3" stroke-width="0.9"/>
<path d="M229.7 562.6L261.6 562.6" stroke-width="0.9"/>
<path d="M229.7 570.9L261.6 570.9" stroke-width="0.9"/>
<path d="M229.7 579.2L261.6 579.2" stroke-width="0.9"/>
<path d="M229.7 587.5L261.6 587.5" stroke-width="0.9"/>
<path d="M229.7 595.8L261.6 595.8" stroke-width="0.9"/>
<path d="M229.7 604.1L261.6 604.1" stroke-width="0.9"/>
<path d="M229.7 612.4L261.6 612.4" stroke-width="0.9"/>
<path d="M229.7 612.6L264 612.6"/>
<path d="M250.6 554L250.6 585.4" stroke-width="2.9" stroke="#1c1c1c" stroke-linecap="butt"/>
<path d="M246.3 584.4 L254.9 584.4 L250.6 593Z" stroke-width="0.6" stroke="#111" fill="#111"/>
<path d="M237.5 529.4A9 3.2 0 0 1 254.5 529.4" stroke-width="0.7"/>
<rect x="167.8" y="537.6" width="3.6" height="14.6" stroke-width="1" stroke-linejoin="miter" />
<rect x="172.4" y="538.2" width="17.7" height="13.4" rx="6.5" stroke-width="1" />
<ellipse cx="181.8" cy="544.9" rx="6.6" ry="4.8" stroke-width="1.3" stroke="#111"/>
<path d="M171.4 539.5L173.4 540.5" stroke-width="0.7"/>
<path d="M171.4 550.4L173.4 549.4" stroke-width="0.7"/>
<path d="M205.8 529.4A20.8 20.8 0 0 0 226.6 550.2" stroke-width="0.9"/>
<path d="M226.6 529.4L226.6 550.2" stroke-width="0.7"/>
<path d="M168 567H190Q198 567 198 575V594H168Z"/>
<path d="M169.6 568.6H189.5Q196.4 568.6 196.4 575.5V592.4H169.6Z" stroke-width="0.7"/>
<circle cx="183" cy="581" r="1.4" stroke-width="0.7" />
<rect x="203" y="581" width="24.8" height="14.4" stroke-linejoin="miter" />
<ellipse cx="214.9" cy="588.4" rx="7.3" ry="5.2"/>
<ellipse cx="214.9" cy="588.4" rx="6" ry="4" stroke-width="0.7"/>
<path d="M163 595.4L227.8 595.4"/>
<path d="M166 598L227.8 598"/>
<path d="M185.8 598L185.8 621.7"/>
<path d="M205.8 598L205.8 621.7"/>
<path d="M166.5 621.7L227.8 621.7"/>
<path d="M172 621.7 L179 623.6 L180 621.7" stroke-width="0.6"/>
<path d="M192 621.7 L199 623.6 L200 621.7" stroke-width="0.6"/>
<path d="M213 621.7 L220 623.6 L221 621.7" stroke-width="0.6"/>
<text x="250.2" y="627.5" font-size="7.2" text-anchor="middle" fill="#444" stroke="none" transform="rotate(-90 250.2 627.5)" textLength="7.8" lengthAdjust="spacingAndGlyphs">DN</text>
<path d="M250.8 620L250.8 635" stroke-width="0.7"/>
<path d="M251.5 618.6 L253.3 612.8 L255 618.6" stroke-width="0.9"/>
<path d="M252.2 616.6L254.4 616.6" stroke-width="0.6"/>
<path d="M301.7 549.6A26 26 0 0 1 327.7 523.6" stroke-width="0.9"/>
<path d="M327.7 523.6L327.7 549.6" stroke-width="0.7"/>
<path d="M282.8 551.4L282.8 621"/>
<path d="M286.2 551.4L286.2 646.3"/>
<path d="M261.6 612.6 L261.6 639.8 L286.2 646.3"/>
<path d="M264 621 L264 638.6 L284.6 644" stroke-width="0.7"/>
<path d="M264 621L286.2 621" stroke-width="0.9"/>
<rect x="265.4" y="574.7" width="19.6" height="19.4" stroke-width="0.9" stroke-linejoin="miter" />
<path d="M264 574.7L282.8 574.7" stroke-width="0.7"/>
<path d="M264 594.1L282.8 594.1" stroke-width="0.7"/>
<circle cx="270.6" cy="580" r="2.7" stroke-width="0.9" />
<circle cx="280.2" cy="580.4" r="2.1" stroke-width="0.9" />
<circle cx="270.6" cy="589.4" r="2.4" stroke-width="0.9" />
<circle cx="280.2" cy="589.2" r="2.6" stroke-width="0.9" />
<rect x="269.3" y="622.6" width="14.2" height="13.4" stroke-width="1" stroke-linejoin="miter" />
<rect x="271" y="624.2" width="10.8" height="10.2" stroke-width="0.7" stroke-linejoin="miter" />
<text x="304" y="587.3" font-size="8.3" text-anchor="middle" fill="#222" stroke="none" transform="rotate(-90 304 587.3)" textLength="24.9" lengthAdjust="spacingAndGlyphs" font-weight="bold">KUHINJA</text>
<text x="312.6" y="588.5" font-size="8.3" text-anchor="middle" fill="#222" stroke="none" transform="rotate(-90 312.6 588.5)" textLength="22" lengthAdjust="spacingAndGlyphs" font-weight="bold">GALLEY</text>
<circle cx="316.8" cy="556" r="1.3" stroke="none" fill="#111" />
<circle cx="243.6" cy="531.8" r="0.9" stroke="none" fill="#111" />
<!-- salon -->
<path d="M167.4 650.3H185Q187.1 650.3 187.2 652.5L192.8 752.7Q193.3 761.3 200.5 761.3H220.4Q223.5 761.3 223.5 764.5V781.2"/>
<path d="M167.4 650.3 L167.5 655.6 L167.6 663.1 L167.7 671.8 L168 681.1 L168.3 690 L168.8 698.9 L169.4 708.3 L170 717.8 L170.7 726.9 L171.5 735 L172.3 742.3 L173.3 749 L174.3 755.1 L175.2 760.5 L176 765 L176.7 768.6 L177.4 771.3 L178 773.3 L178.4 774.8 L178.8 776 L181 780 L185.7 781.2 L223.5 781.2" stroke-width="1"/>
<path d="M169.4 651.5 L169.5 656.6 L169.6 663.8 L169.7 672.3 L170 681.3 L170.3 690 L170.8 698.8 L171.4 708.3 L172 717.8 L172.8 726.9 L173.5 735 L174.4 742.4 L175.3 749.5 L176.3 755.9 L177.2 761.2 L177.8 765 L180 775 L183.5 779 L187 779.6 L223 779.6" stroke-width="0.7"/>
<path d="M172.8 651.4 L172.9 656.5 L173 663.8 L173.2 672.2 L173.5 681.3 L173.8 690 L174.3 698.8 L174.8 708.3 L175.4 717.8 L176.1 726.9 L176.8 735 L177.6 742.2 L178.4 748.8 L179.2 754.7 L180 759.8 L180.6 764 L181 767.1 L181.2 769.1 L181.4 770.4 L181.5 771.2 L181.6 772 L183.5 776.3 L187 777.7 L222.8 777.7" stroke-width="0.9"/>
<path d="M193.5 657.1H219.8Q222.8 657.1 222.8 660.1V755.4Q222.8 758.4 219.8 758.4H201Q195.5 758.4 195 752.7L190.7 660.1Q190.7 657.1 193.5 657.1Z"/>
<path d="M194.3 658.6H219.3Q221.3 658.6 221.3 660.6V754.9Q221.3 756.9 219.3 756.9H201.5Q196.8 756.9 196.4 752L192.2 660.6Q192.2 658.6 194.3 658.6Z" stroke-width="0.7"/>
<path d="M237.1 670H228.8Q226.3 670 226.3 672.5V686.7Q226.3 689.2 228.8 689.2H237.1"/>
<path d="M236.1 669A11 10.6 0 0 1 236.1 690.2"/>
<path d="M236.1 670.8A9.2 8.8 0 0 1 236.1 688.4" stroke-width="0.7"/>
<path d="M237.1 700.6H228.8Q226.3 700.6 226.3 703.1V717.3Q226.3 719.8 228.8 719.8H237.1"/>
<path d="M236.1 699.6A11 10.6 0 0 1 236.1 720.8"/>
<path d="M236.1 701.4A9.2 8.8 0 0 1 236.1 719" stroke-width="0.7"/>
<path d="M237.1 730H228.8Q226.3 730 226.3 732.5V746.7Q226.3 749.2 228.8 749.2H237.1"/>
<path d="M236.1 729A11 10.6 0 0 1 236.1 750.2"/>
<path d="M236.1 730.8A9.2 8.8 0 0 1 236.1 748.4" stroke-width="0.7"/>
<rect x="226.3" y="718.2" width="39.3" height="63" fill="none" stroke-linejoin="miter" />
<path d="M226.3 718.2L265.6 781.2" stroke-width="0.9"/>
<path d="M265.6 718.2L226.3 781.2" stroke-width="0.9"/>
<text x="259.6" y="666" font-size="8" text-anchor="middle" fill="#222" stroke="none" transform="rotate(-90 259.6 666)" textLength="19.3" lengthAdjust="spacingAndGlyphs" font-weight="bold">SALON</text>
<text x="267.5" y="666" font-size="8" text-anchor="middle" fill="#222" stroke="none" transform="rotate(-90 267.5 666)" textLength="19.3" lengthAdjust="spacingAndGlyphs" font-weight="bold">SALON</text>
<path d="M323.3 674.3H293Q290 674.3 290 677.3V743Q290 746 293 746H323.3"/>
<path d="M315.5 674.3L315.5 746"/>
<path d="M290 697L315.5 697"/>
<path d="M290 722L315.5 722"/>
<circle cx="303" cy="680.8" r="1.3" stroke="none" fill="#111" />
<circle cx="308.8" cy="691" r="1.3" stroke="none" fill="#111" />
<circle cx="308.8" cy="707.8" r="1.3" stroke="none" fill="#111" />
<path d="M294.4 746L294.4 781.3" stroke-width="1.3" stroke="#111"/>
<path d="M294.4 746.6 L291.3 763.2 L294.4 779.8" stroke-width="0.9"/>
<path d="M291.3 763.2L294.4 763.2" stroke-width="0.7"/>
<path d="M301.1 747.1 L295.9 778.8"/>
<path d="M319.8 746.6 L315.6 780.8"/>
<path d="M301.1 747.1L318.8 749.2" stroke-width="1"/>
<path d="M300.1 754.4L318.8 757.2" stroke-width="1"/>
<path d="M299 762.2L317.7 764.8" stroke-width="1"/>
<path d="M298 769.9L316.7 772.5" stroke-width="1"/>
<path d="M296.5 777.7L315.6 780.8" stroke-width="1"/>
<path d="M172.8 781.5L320 781.5" stroke-width="1.2"/>
<path d="M175 783.3L318 783.3" stroke-width="0.9"/>
<path d="M222.6 783.3L222.6 806.5"/>
<path d="M268.4 783.3L268.4 806.5"/>
<path d="M222.6 806.5Q236 806 245.2 796.5" stroke-width="0.9"/>
<path d="M268.4 806.5Q256 806 246.8 796.5" stroke-width="0.9"/>
<path d="M245.8 766L245.8 794.9" stroke-width="3.2" stroke="#1c1c1c" stroke-linecap="butt"/>
<path d="M241.6 793.9 L250 793.9 L245.8 802.5Z" stroke-width="0.6" stroke="#111" fill="#111"/>
<path d="M280.4 783.9 L280.4 806.2 L311.8 806.2"/>
<path d="M280.4 804.7L312.2 804.7" stroke-width="0.9"/>
<path d="M288.7 783.9L288.7 804.7" stroke-width="1"/>
<path d="M289.7 784.5L298 804.7" stroke-width="0.9"/>
<path d="M291.5 784.5L301.5 804.7" stroke-width="0.7"/>
<text x="278.8" y="796" font-size="7" text-anchor="middle" fill="#444" stroke="none" transform="rotate(-90 278.8 796)" textLength="7.4" lengthAdjust="spacingAndGlyphs">UP</text>
<path d="M272.5 790L272.5 802" stroke-width="0.6"/>
<path d="M282 792.5 L285 795 L282 797.5" stroke-width="0.9"/>
<path d="M285 795Q289 796 293 793" stroke-width="0.7"/>
<circle cx="285.6" cy="778.2" r="1.1" stroke="none" fill="#111" />
<circle cx="290.7" cy="778.2" r="1.1" stroke="none" fill="#111" />
<circle cx="296.5" cy="777.9" r="1.1" stroke="none" fill="#111" />
<circle cx="294.1" cy="790.7" r="1.1" stroke="none" fill="#111" />
<circle cx="301.4" cy="788.3" r="1.1" stroke="none" fill="#111" />
<circle cx="308.6" cy="788.6" r="1.1" stroke="none" fill="#111" />
<rect x="184.2" y="787.5" width="24.2" height="26.5" stroke-linejoin="miter" />
<path d="M184.2 787.5L208.4 814" stroke-width="0.9"/>
<path d="M208.4 787.5L184.2 814" stroke-width="0.9"/>
<rect x="186" y="785" width="20.6" height="3.4" stroke-width="1.2" stroke-linejoin="miter" />
<path d="M172.8 782.5 L181.3 817"/>
<path d="M318.8 782.5 L310.3 817"/>
<path d="M174.6 782.5 L183 816.5" stroke-width="0.7"/>
<path d="M317 782.5 L308.6 816.5" stroke-width="0.7"/>
<path d="M181.3 817L183 816.5"/>
<circle cx="181.6" cy="800" r="1.3" stroke="none" fill="#111" />
<path d="M210.3 841.5V850Q210.3 852.5 212.8 852.5H225.8Q228.3 852.5 228.3 850V841.5"/>
<path d="M209 843A10.3 11.5 0 0 1 229.6 843"/>
<path d="M210.8 843A8.5 9.6 0 0 1 227.8 843" stroke-width="0.7"/>
<path d="M209 843L210.8 843" stroke-width="0.7"/>
<path d="M229.6 843L227.8 843" stroke-width="0.7"/>
<path d="M237.2 841.5V850Q237.2 852.5 239.7 852.5H252.7Q255.2 852.5 255.2 850V841.5"/>
<path d="M235.9 843A10.3 11.5 0 0 1 256.5 843"/>
<path d="M237.7 843A8.5 9.6 0 0 1 254.7 843" stroke-width="0.7"/>
<path d="M235.9 843L237.7 843" stroke-width="0.7"/>
<path d="M256.5 843L254.7 843" stroke-width="0.7"/>
<path d="M264.4 841.5V850Q264.4 852.5 266.9 852.5H279.9Q282.4 852.5 282.4 850V841.5"/>
<path d="M263.1 843A10.3 11.5 0 0 1 283.7 843"/>
<path d="M264.9 843A8.5 9.6 0 0 1 281.9 843" stroke-width="0.7"/>
<path d="M263.1 843L264.9 843" stroke-width="0.7"/>
<path d="M283.7 843L281.9 843" stroke-width="0.7"/>
<circle cx="171.1" cy="840.4" r="4" />
<circle cx="176.4" cy="853.8" r="4" />
<path d="M167.4 841.9L172.7 855.3"/>
<path d="M174.8 838.9L180.1 852.3"/>
<circle cx="320.5" cy="840.4" r="4" />
<circle cx="315.2" cy="853.8" r="4" />
<path d="M316.8 838.9L311.5 852.3"/>
<path d="M324.2 841.9L318.9 855.3"/>
<path d="M206 855.2 L205.3 855.4 L204.2 855.5 L203 855.8 L201.7 856.1 L200.5 856.5 L199.5 857 L198.7 857.7 L197.9 858.5 L197.3 859.4 L196.7 860.4 L196.3 861.4 L196 862.5 L195.8 863.6 L195.8 864.8 L195.9 866 L196.1 867.3 L196.5 868.6 L197 870 L197.7 871.4 L198.5 872.9 L199.4 874.4 L200.5 876 L201.7 877.5 L203 879 L204.4 880.5 L205.9 881.9 L207.4 883.3 L209.1 884.7 L211 886.1 L213 887.5 L215.2 888.9 L217.5 890.4 L220 891.9 L222.6 893.3 L225.3 894.5 L228 895.6 L231 896.5 L234.4 897.2 L237.9 897.8 L241.2 898.3 L244 898.7 L246 899 L247.6 898.7 L250.4 898.3 L253.7 897.8 L257.2 897.2 L260.6 896.5 L263.6 895.6 L266.3 894.5 L269 893.3 L271.6 891.9 L274.1 890.4 L276.4 888.9 L278.6 887.5 L280.6 886.1 L282.5 884.7 L284.2 883.3 L285.7 881.9 L287.2 880.5 L288.6 879 L289.9 877.5 L291.1 876 L292.2 874.4 L293.1 872.9 L293.9 871.4 L294.6 870 L295.1 868.6 L295.5 867.3 L295.7 866 L295.8 864.8 L295.8 863.6 L295.6 862.5 L295.3 861.4 L294.9 860.4 L294.3 859.4 L293.7 858.5 L292.9 857.7 L292.1 857 L291.1 856.5 L289.9 856.1 L288.6 855.8 L287.4 855.5 L286.3 855.4 L285.6 855.2Z"/>
<path d="M176.5 866.5 L177.5 865.9 L179 864.9 L180.7 863.8 L182.5 862.7 L184.2 861.9 L185.5 861.5 L186.5 861.5 L187.3 861.8 L187.9 862.2 L188.6 863 L189.2 863.9 L190 865 L190.9 866.4 L191.8 868.1 L192.7 870 L193.7 872 L194.8 874 L196 876 L197.3 878 L198.6 880 L200.1 882 L201.6 884.1 L203.2 886.1 L205 888 L206.9 889.9 L209 891.7 L211.2 893.5 L213.4 895.3 L215.7 897 L218 898.5 L220.3 900 L222.6 901.3 L224.9 902.6 L227.3 903.8 L229.7 904.9 L232 905.8 L234.5 906.5 L237.2 907.1 L239.9 907.6 L242.4 907.9 L244.5 908.2 L246 908.4 L247.1 908.2 L249.2 907.9 L251.7 907.6 L254.4 907.1 L257.1 906.5 L259.6 905.8 L261.9 904.9 L264.3 903.8 L266.7 902.6 L269 901.3 L271.3 900 L273.6 898.5 L275.9 897 L278.2 895.3 L280.4 893.5 L282.6 891.7 L284.7 889.9 L286.6 888 L288.4 886.1 L290 884.1 L291.5 882 L293 880 L294.3 878 L295.6 876 L296.8 874 L297.9 872 L298.9 870 L299.8 868.1 L300.7 866.4 L301.6 865 L302.4 863.9 L303 863 L303.7 862.2 L304.3 861.8 L305.1 861.5 L306.1 861.5 L307.4 861.9 L309.1 862.7 L310.9 863.8 L312.6 864.9 L314.1 865.9 L315.1 866.5"/>
<path d="M180.5 875 L181.5 876.5 L182.8 878.7 L184.4 881.2 L186.2 884 L188.1 886.6 L190 889 L191.9 891.2 L193.9 893.3 L196 895.3 L198.2 897.3 L200.6 899.2 L203 901 L205.5 902.7 L208 904.3 L210.7 905.8 L213.5 907.1 L216.6 908.4 L220 909.5 L224.1 910.5 L229 911.3 L234.1 912 L238.9 912.6 L243.1 913 L246 913.4 L248.5 913 L252.7 912.6 L257.5 912 L262.6 911.3 L267.5 910.5 L271.6 909.5 L275 908.4 L278.1 907.1 L280.9 905.8 L283.6 904.3 L286.1 902.7 L288.6 901 L291 899.2 L293.4 897.3 L295.6 895.3 L297.7 893.3 L299.7 891.2 L301.6 889 L303.5 886.6 L305.4 884 L307.2 881.2 L308.8 878.7 L310.1 876.5 L311.1 875"/>
<circle cx="245.7" cy="878.8" r="4.4" fill="#fff" />
<path d="M237 878.8L258 878.8"/>
<!-- forepeak -->
<path d="M547.4 118.5 L546.6 118.8 L545.6 119.1 L544.3 119.5 L542.9 120 L541.5 120.6 L540 121.5 L538.5 122.5 L537 123.5 L535.4 124.7 L533.7 126.1 L531.8 127.9 L529.8 130 L527.5 132.6 L524.9 135.6 L522.2 138.9 L519.5 142.4 L516.8 145.9 L514.2 149.5 L511.8 153.1 L509.4 156.7 L507.1 160.5 L504.8 164.3 L502.6 168.1 L500.5 172 L498.4 176 L496.4 180.1 L494.4 184.3 L492.5 188.4 L490.6 192.4 L488.9 196.1 L487.3 199.6 L485.8 202.9 L484.3 206 L483 209 L481.7 212 L480.5 215 L479.3 218 L478.3 220.9 L477.3 223.8 L476.3 226.6 L475.4 229.4 L474.5 232 L473.6 234.7 L472.7 237.4 L471.9 240.1 L471.1 242.5 L470.5 244.5 L470 246" stroke-width="0.9"/>
<path d="M547.4 118.5 L548.2 118.8 L549.2 119.1 L550.5 119.5 L551.9 120 L553.3 120.6 L554.8 121.5 L556.3 122.5 L557.8 123.5 L559.4 124.7 L561.1 126.1 L563 127.9 L565 130 L567.3 132.6 L569.9 135.6 L572.6 138.9 L575.3 142.4 L578 145.9 L580.6 149.5 L583 153.1 L585.4 156.7 L587.7 160.5 L590 164.3 L592.2 168.1 L594.3 172 L596.4 176 L598.4 180.1 L600.4 184.3 L602.3 188.4 L604.2 192.4 L605.9 196.1 L607.5 199.6 L609 202.9 L610.5 206 L611.8 209 L613.1 212 L614.3 215 L615.5 218 L616.5 220.9 L617.5 223.8 L618.5 226.6 L619.4 229.4 L620.3 232 L621.2 234.7 L622.1 237.4 L622.9 240.1 L623.7 242.5 L624.3 244.5 L624.8 246" stroke-width="0.9"/>
<path d="M514.6 149.2L580.2 149.2"/>
<path d="M513 152L581.8 152"/>
<path d="M489.2 194.9L605.6 194.9"/>
<path d="M488.2 197.2L606.6 197.2"/>
<path d="M524.2 152L506.2 194.9"/>
<path d="M570.6 152L588.6 194.9"/>
<path d="M538.4 152L522.8 194.9"/>
<path d="M540.4 152L525 194.9"/>
<path d="M559.8 152L559.8 214.8"/>
<path d="M574.5 152L591.2 194.9"/>
<path d="M531.3 209 L547.4 156.3 L564.7 214.8" stroke-width="0.9"/>
<ellipse cx="522.7" cy="174.3" rx="9" ry="4.3" transform="rotate(-62 522.7 174.3)"/>
<ellipse cx="522.7" cy="174.3" rx="7.6" ry="3.2" stroke-width="0.7" transform="rotate(-62 522.7 174.3)"/>
<g transform="rotate(-32 572.7 178.5)"><rect x="565.5" y="183" width="14.5" height="3.6" stroke-width="0.7"/><path d="M566 183V176Q566 168.5 572.7 168.5Q579.5 168.5 579.5 176V183" /><ellipse cx="572.7" cy="176.3" rx="4.6" ry="5.6" stroke-width="0.7"/></g>
<circle cx="547.4" cy="174" r="0.6" stroke="none" fill="#111" />
<!-- crew cabin -->
<path d="M527.8 197.2 L527.8 212.8"/>
<path d="M567 197.2 L567 212.8"/>
<path d="M529.2 198.5 L529.2 210.5" stroke-width="0.7"/>
<path d="M565.6 198.5 L565.6 210.5" stroke-width="0.7"/>
<path d="M496.2 212.8 L527.8 212.8" stroke-width="1.5" stroke="#111"/>
<path d="M598.6 212.8 L567 212.8" stroke-width="1.5" stroke="#111"/>
<path d="M500.6 197.2 L496.2 212.8 L472.8 288"/>
<path d="M594.2 197.2 L598.6 212.8 L622 288"/>
<path d="M527.8 212.8 L503.8 288"/>
<path d="M567 212.8 L591 288"/>
<path d="M523.6 215.5 L500.4 288" stroke-width="0.9"/>
<path d="M571.2 215.5 L594.4 288" stroke-width="0.9"/>
<path d="M493 214.5 L476.5 268" stroke-width="0.7"/>
<path d="M601.8 214.5 L618.3 268" stroke-width="0.7"/>
<path d="M536.9 197.2A19.5 19.5 0 0 0 556.4 216.7" stroke-width="0.9"/>
<path d="M563.4 197.2L563.4 208" stroke-width="0.9"/>
<path d="M460.7 287.8L634.1 287.8"/>
<path d="M460 291.8L634.8 291.8"/>
<text x="540.5" y="241.5" font-size="8.2" text-anchor="middle" fill="#333" stroke="none" transform="rotate(-90 540.5 241.5)" textLength="27.3" lengthAdjust="spacingAndGlyphs" font-weight="bold">(3) CREW</text>
<text x="562" y="232.5" font-size="8.2" text-anchor="middle" fill="#333" stroke="none" transform="rotate(-90 562 232.5)" textLength="36.3" lengthAdjust="spacingAndGlyphs" font-weight="bold">(3) POSADA</text>
<!-- crew bathrooms -->
<rect x="533" y="279.5" width="28.5" height="26" fill="#fff" stroke-linejoin="miter" />
<rect x="535.6" y="281" width="23.2" height="19" stroke-linejoin="miter" />
<path d="M535.6 281L558.8 300" stroke-width="0.9"/>
<path d="M558.8 281L535.6 300" stroke-width="0.9"/>
<rect x="537" y="299.2" width="19.4" height="4.2" stroke-width="1.5" stroke-linejoin="miter" />
<rect x="531.4" y="291.6" width="32" height="16" stroke-width="0.7" fill="none" stroke-linejoin="miter" />
<path d="M517.6 291.6V305Q517.6 320.6 534 320.6H544V305.4" stroke-width="1"/>
<path d="M577.2 291.6V305Q577.2 320.6 560.8 320.6H550.8V305.4" stroke-width="1"/>
<path d="M519.2 291.6V305Q519.2 319 534 319H542.4V305.4" stroke-width="0.7"/>
<path d="M575.6 291.6V305Q575.6 319 560.8 319H552.4V305.4" stroke-width="0.7"/>
<path d="M472.8 287.8 L503.8 287.8" stroke-width="1.7" stroke="#111"/>
<path d="M622 287.8 L591 287.8" stroke-width="1.7" stroke="#111"/>
<path d="M515.5 291.6L515.5 296"/>
<path d="M579.3 291.6L579.3 296"/>
<path d="M497 296 L515.5 296" stroke-width="0.7"/>
<path d="M597.8 296 L579.3 296" stroke-width="0.7"/>
<rect x="499.3" y="294.8" width="14.3" height="3.6" stroke-width="0.9" stroke-linejoin="miter" />
<rect x="581.2" y="294.8" width="14.3" height="3.6" stroke-width="0.9" stroke-linejoin="miter" />
<ellipse cx="588.6" cy="306.6" rx="5.2" ry="7.2" transform="rotate(8 588.6 306.6)"/>
<ellipse cx="588.6" cy="306.8" rx="3.8" ry="5.6" stroke-width="0.7" transform="rotate(8 588.6 306.8)"/>
<ellipse cx="506.2" cy="306.6" rx="5.2" ry="7.2" transform="rotate(-8 506.2 306.6)"/>
<ellipse cx="506.2" cy="306.8" rx="3.8" ry="5.6" stroke-width="0.7" transform="rotate(-8 506.2 306.8)"/>
<path d="M494.6 291.6L494.6 322.2"/>
<path d="M600.2 291.6L600.2 322.2"/>
<rect x="478" y="322.2" width="16.4" height="28.4" stroke-linejoin="miter" />
<rect x="600.4" y="322.2" width="16.4" height="28.4" stroke-linejoin="miter" />
<rect x="482.2" y="327.6" width="9.2" height="17.4" rx="4.2" stroke-width="0.9" />
<rect x="603.4" y="327.6" width="9.2" height="17.4" rx="4.2" stroke-width="0.9" />
<path d="M478 322.2 L494.6 322.2"/>
<path d="M616.8 322.2 L600.2 322.2"/>
<path d="M523.1 350.6A24.3 23 0 0 1 571.7 350.6"/>
<path d="M452.3 350.6L642.5 350.6"/>
<path d="M452.1 352.6L642.7 352.6"/>
<path d="M512 351.6 L516 351.6" stroke-width="1.6" stroke="#111"/>
<path d="M582.8 351.6 L578.8 351.6" stroke-width="1.6" stroke="#111"/>
<!-- forward guest cabins -->
<path d="M465.7 353.4 L520 353.4 L512.4 421 L512.2 425.5 L510 429 L506 430.6 L457.2 430.6" stroke-width="1.6" stroke="#111"/>
<path d="M629.1 353.4 L574.8 353.4 L582.4 421 L582.6 425.5 L584.8 429 L588.8 430.6 L637.6 430.6" stroke-width="1.6" stroke="#111"/>
<path d="M465.7 353.4 L457.2 430.6"/>
<path d="M629.1 353.4 L637.6 430.6"/>
<path d="M470.2 356.6q10.5 1.8 21 0q1.5 6.2 0 12.4q-10.5 -1.8 -21 0q-1.5 -6.2 0 -12.4z" stroke-width="0.9"/>
<path d="M603.6 356.6q10.5 1.8 21 0q1.5 6.2 0 12.4q-10.5 -1.8 -21 0q-1.5 -6.2 0 -12.4z" stroke-width="0.9"/>
<path d="M494.4 356.6q11 1.8 22 0q1.5 6.2 0 12.4q-11 -1.8 -22 0q-1.5 -6.2 0 -12.4z" stroke-width="0.9"/>
<path d="M578.4 356.6q11 1.8 22 0q1.5 6.2 0 12.4q-11 -1.8 -22 0q-1.5 -6.2 0 -12.4z" stroke-width="0.9"/>
<text x="495.4" y="385.5" font-size="8.4" text-anchor="middle" fill="#333" stroke="none" transform="rotate(-90 495.4 385.5)" textLength="9.3" lengthAdjust="spacingAndGlyphs">(2)</text>
<text x="598.6" y="386" font-size="8.4" text-anchor="middle" fill="#333" stroke="none" transform="rotate(-90 598.6 386)" textLength="9.3" lengthAdjust="spacingAndGlyphs">(2)</text>
<text x="534" y="395.8" font-size="8.6" text-anchor="middle" fill="#222" stroke="none" transform="rotate(-90 534 395.8)" textLength="12.7" lengthAdjust="spacingAndGlyphs">P(2)</text>
<text x="564.2" y="395.8" font-size="8.6" text-anchor="middle" fill="#222" stroke="none" transform="rotate(-90 564.2 395.8)" textLength="12.7" lengthAdjust="spacingAndGlyphs">P(2)</text>
<path d="M538.4 413.5 L555.6 413.5 L561.3 428 L561.3 443.5 L555.6 456.3 L539.8 456.3 L534.2 443.5 L534.2 428Z"/>
<path d="M538.4 413.5 L536.4 428 L536.4 443.5 L539.8 456.3" stroke-width="0.7"/>
<path d="M556.4 413.5 L558.4 428 L558.4 443.5 L555 456.3" stroke-width="0.7"/>
<path d="M479.1 441H469.9Q467.7 441 467.7 443.2V458.2Q467.7 460.4 469.9 460.4H479.1"/>
<path d="M478.1 440.2A10.4 10.5 0 0 1 478.1 461.2"/>
<path d="M478.1 442A8.7 8.7 0 0 1 478.1 459.4" stroke-width="0.7"/>
<path d="M615.7 441H624.9Q627.1 441 627.1 443.2V458.2Q627.1 460.4 624.9 460.4H615.7"/>
<path d="M616.7 440.2A10.4 10.5 0 0 0 616.7 461.2"/>
<path d="M616.7 442A8.7 8.7 0 0 0 616.7 459.4" stroke-width="0.7"/>
<path d="M474.2 430.6L474.2 470.6"/>
<path d="M620.6 430.6L620.6 470.6"/>
<!-- mid bathrooms -->
<rect x="443.9" y="470.6" width="58.4" height="95" stroke-width="1.3" stroke="#111" stroke-linejoin="miter" />
<rect x="592.5" y="470.6" width="58.4" height="95" stroke-width="1.3" stroke="#111" stroke-linejoin="miter" />
<rect x="445.6" y="472.4" width="55" height="91.4" stroke-width="0.9" stroke-linejoin="miter" />
<rect x="594.2" y="472.4" width="55" height="91.4" stroke-width="0.9" stroke-linejoin="miter" />
<path d="M449.3 472.4 L449.3 564" stroke-width="0.9"/>
<path d="M645.5 472.4 L645.5 564" stroke-width="0.9"/>
<path d="M449.3 472.9 L483.6 472.9 L483.6 493.1 L473.5 500.1 L449.3 500.1" stroke-width="0.9"/>
<path d="M645.5 472.9 L611.2 472.9 L611.2 493.1 L621.3 500.1 L645.5 500.1" stroke-width="0.9"/>
<rect x="457.1" y="479.1" width="4.7" height="14.8" stroke-width="0.9" stroke-linejoin="miter" />
<rect x="633" y="479.1" width="4.7" height="14.8" stroke-width="0.9" stroke-linejoin="miter" />
<ellipse cx="623.7" cy="486.6" rx="7.8" ry="6"/>
<ellipse cx="623.1" cy="486.6" rx="5.8" ry="4.4" stroke-width="0.9"/>
<ellipse cx="471.1" cy="486.6" rx="7.8" ry="6"/>
<ellipse cx="471.7" cy="486.6" rx="5.8" ry="4.4" stroke-width="0.9"/>
<rect x="454.8" y="508.7" width="8.5" height="18.7" rx="4" stroke-width="1" />
<rect x="631.5" y="508.7" width="8.5" height="18.7" rx="4" stroke-width="1" />
<rect x="457.9" y="532.4" width="34.2" height="31.6" stroke-linejoin="miter" />
<rect x="602.7" y="532.4" width="34.2" height="31.6" stroke-linejoin="miter" />
<rect x="460.2" y="535.2" width="29.6" height="27.2" rx="3" stroke-width="0.9" />
<rect x="605" y="535.2" width="29.6" height="27.2" rx="3" stroke-width="0.9" />
<circle cx="620.1" cy="548.7" r="1.3" stroke-width="0.7" />
<circle cx="474.7" cy="548.7" r="1.3" stroke-width="0.7" />
<path d="M500.7 510.3 L500.7 532.4" stroke-width="1.8" stroke="#111"/>
<path d="M594.1 510.3 L594.1 532.4" stroke-width="1.8" stroke="#111"/>
<rect x="492.2" y="507.5" width="2.4" height="1.8" stroke-width="0.4" fill="#222" stroke-linejoin="miter" />
<rect x="600.2" y="507.5" width="2.4" height="1.8" stroke-width="0.4" fill="#222" stroke-linejoin="miter" />
<rect x="492.2" y="561.1" width="2.4" height="1.8" stroke-width="0.4" fill="#222" stroke-linejoin="miter" />
<rect x="600.2" y="561.1" width="2.4" height="1.8" stroke-width="0.4" fill="#222" stroke-linejoin="miter" />
<!-- lobby -->
<path d="M502.3 470.6 L517 470.6"/>
<path d="M592.5 470.6 L577.8 470.6"/>
<path d="M514.7 470.6 L530.3 541.4"/>
<path d="M580.1 470.6 L564.5 541.4"/>
<path d="M517 470.6 L532.2 536" stroke-width="0.9"/>
<path d="M577.8 470.6 L562.6 536" stroke-width="0.9"/>
<path d="M502.3 495.8 L520.9 495.8"/>
<path d="M592.5 495.8 L573.9 495.8"/>
<path d="M502.3 497.4 L521 497.4" stroke-width="0.7"/>
<path d="M592.5 497.4 L573.8 497.4" stroke-width="0.7"/>
<path d="M520.9 496.2 L547.4 489.8"/>
<path d="M573.9 496.2 L547.4 489.8"/>
<path d="M521.2 497.8 L547.4 491.6" stroke-width="0.7"/>
<path d="M573.6 497.8 L547.4 491.6" stroke-width="0.7"/>
<path d="M517.6 470.6A27.5 27.5 0 0 1 547.2 488.6" stroke-width="0.9"/>
<path d="M577.2 470.6A27.5 27.5 0 0 0 547.6 488.6" stroke-width="0.9"/>
<path d="M502.3 523.5 L524 518" stroke-width="0.9"/>
<path d="M592.5 523.5 L570.8 518" stroke-width="0.9"/>
<path d="M504.6 508.7 L519.4 507.1 L519.2 505.6 L504.6 506.6" stroke-width="0.7"/>
<path d="M590.2 508.7 L575.4 507.1 L575.6 505.6 L590.2 506.6" stroke-width="0.7"/>
<path d="M502.3 525A28 28 0 0 0 529.5 541.5" stroke-width="0.9"/>
<path d="M592.5 525A28 28 0 0 1 565.3 541.5" stroke-width="0.9"/>
<circle cx="547.4" cy="494.6" r="0.9" stroke="none" fill="#111" />
<text x="541.2" y="527" font-size="7.2" text-anchor="middle" fill="#444" stroke="none" transform="rotate(-90 541.2 527)" textLength="7.8" lengthAdjust="spacingAndGlyphs">UP</text>
<path d="M543.6 520L543.6 539" stroke-width="0.7"/>
<path d="M541.6 540.5 L543.4 546.5 L545.2 540.5" stroke-width="0.9"/>
<path d="M531 535.6L531 614.8" stroke-width="1.5" stroke="#111"/>
<path d="M563.8 535.6L563.8 614.8" stroke-width="1.5" stroke="#111"/>
<path d="M533.1 535.6L533.1 614.8"/>
<path d="M561.7 535.6L561.7 614.8"/>
<path d="M533.1 535.6L561.7 535.6" stroke-width="1" stroke="#111"/>
<path d="M533.1 543.5L561.7 543.5" stroke-width="1" stroke="#111"/>
<path d="M533.1 551.4L561.7 551.4" stroke-width="1" stroke="#111"/>
<path d="M533.1 559.4L561.7 559.4" stroke-width="1" stroke="#111"/>
<path d="M533.1 567.3L561.7 567.3" stroke-width="1" stroke="#111"/>
<path d="M533.1 575.2L561.7 575.2" stroke-width="1" stroke="#111"/>
<path d="M533.1 583.1L561.7 583.1" stroke-width="1" stroke="#111"/>
<path d="M533.1 591L561.7 591" stroke-width="1" stroke="#111"/>
<path d="M533.1 599L561.7 599" stroke-width="1" stroke="#111"/>
<path d="M533.1 606.9L561.7 606.9" stroke-width="1" stroke="#111"/>
<path d="M533.1 614.8L561.7 614.8" stroke-width="1" stroke="#111"/>
<path d="M531 535.6L563.8 535.6"/>
<path d="M531 614.8L563.8 614.8"/>
<path d="M531 545 L528.6 560 L528.6 600 L531 612" stroke-width="0.7"/>
<path d="M563.8 545 L566.2 560 L566.2 600 L563.8 612" stroke-width="0.7"/>
<!-- aft guest cabins -->
<path d="M444.3 565.6 L501.3 565.6 L501.3 636 L500 641 L496.5 644.6 L492 645 L444.3 645" stroke-width="1.6" stroke="#111"/>
<path d="M650.5 565.6 L593.5 565.6 L593.5 636 L594.8 641 L598.3 644.6 L602.8 645 L650.5 645" stroke-width="1.6" stroke="#111"/>
<path d="M450 569.9q10.7 1.8 21.4 0q1.5 6.4 0 12.8q-10.7 -1.8 -21.4 0q-1.5 -6.4 0 -12.8z" stroke-width="0.9"/>
<path d="M623.4 569.9q10.7 1.8 21.4 0q1.5 6.4 0 12.8q-10.7 -1.8 -21.4 0q-1.5 -6.4 0 -12.8z" stroke-width="0.9"/>
<path d="M475.7 569.9q10.7 1.8 21.4 0q1.5 6.4 0 12.8q-10.7 -1.8 -21.4 0q-1.5 -6.4 0 -12.8z" stroke-width="0.9"/>
<path d="M597.7 569.9q10.7 1.8 21.4 0q1.5 6.4 0 12.8q-10.7 -1.8 -21.4 0q-1.5 -6.4 0 -12.8z" stroke-width="0.9"/>
<text x="496" y="595.7" font-size="8.4" text-anchor="middle" fill="#333" stroke="none" transform="rotate(-90 496 595.7)" textLength="9.3" lengthAdjust="spacingAndGlyphs">(2)</text>
<text x="609.4" y="598.5" font-size="8.4" text-anchor="middle" fill="#333" stroke="none" transform="rotate(-90 609.4 598.5)" textLength="9.3" lengthAdjust="spacingAndGlyphs">(2)</text>
<text x="517.2" y="608.5" font-size="8.6" text-anchor="middle" fill="#222" stroke="none" transform="rotate(-90 517.2 608.5)" textLength="12.7" lengthAdjust="spacingAndGlyphs">P(2)</text>
<text x="583" y="608.5" font-size="8.6" text-anchor="middle" fill="#222" stroke="none" transform="rotate(-90 583 608.5)" textLength="12.7" lengthAdjust="spacingAndGlyphs">P(2)</text>
<path d="M519.7 661.3V671.3Q519.7 673.8 522.2 673.8H534.6Q537.1 673.8 537.1 671.3V661.3"/>
<path d="M518.4 662.8A10 11.5 0 0 1 538.4 662.8"/>
<path d="M520.2 662.8A8.2 9.6 0 0 1 536.6 662.8" stroke-width="0.7"/>
<path d="M518.4 662.8L520.2 662.8" stroke-width="0.7"/>
<path d="M538.4 662.8L536.6 662.8" stroke-width="0.7"/>
<path d="M557.7 661.3V671.3Q557.7 673.8 560.2 673.8H572.6Q575.1 673.8 575.1 671.3V661.3"/>
<path d="M556.4 662.8A10 11.5 0 0 1 576.4 662.8"/>
<path d="M558.2 662.8A8.2 9.6 0 0 1 574.6 662.8" stroke-width="0.7"/>
<path d="M556.4 662.8L558.2 662.8" stroke-width="0.7"/>
<path d="M576.4 662.8L574.6 662.8" stroke-width="0.7"/>
<path d="M444.3 667 L510 667"/>
<path d="M650.5 667 L584.8 667"/>
<path d="M510 667 L510 682.5"/>
<path d="M584.8 667 L584.8 682.5"/>
<path d="M450 667 L464 663.5 L478 667" stroke-width="0.7"/>
<path d="M644.8 667 L630.8 663.5 L616.8 667" stroke-width="0.7"/>
<path d="M484.5 645 L484.5 682.5" stroke-width="0.9"/>
<path d="M610.3 645 L610.3 682.5" stroke-width="0.9"/>
<path d="M445.2 682.6L649.6 682.6" stroke-width="0.9"/>
<path d="M445 686.1L649.8 686.1" stroke-width="3.2" stroke="#111" stroke-linecap="butt"/>
<!-- engine room -->
<rect x="451.4" y="689.9" width="65.6" height="37.5" stroke-linejoin="miter" />
<path d="M451.4 689.9L517 727.4" stroke-width="0.9"/>
<path d="M517 689.9L451.4 727.4" stroke-width="0.9"/>
<rect x="579" y="689.9" width="65.6" height="37.5" stroke-linejoin="miter" />
<path d="M579 689.9L644.6 727.4" stroke-width="0.9"/>
<path d="M644.6 689.9L579 727.4" stroke-width="0.9"/>
<rect x="527" y="700" width="39.4" height="62.8" stroke-linejoin="miter" />
<path d="M527 700L566.4 762.8" stroke-width="0.7"/>
<path d="M566.4 700L527 762.8" stroke-width="0.7"/>
<rect x="534.6" y="701.8" width="23.2" height="58.2" rx="3" stroke-width="1.3" stroke="#111" fill="none" />
<path d="M533.6 702.4L558.4 702.4" stroke-width="2.2" stroke="#111"/>
<path d="M534.8 704L534.8 726" stroke-width="1.1" stroke="#111"/>
<rect x="531.9" y="725" width="4.6" height="17" stroke-width="0.5" stroke="#111" fill="#111" stroke-linejoin="miter" />
<path d="M532.6 728.5L535.8 728.5" stroke-width="0.6" stroke="#ddd"/>
<path d="M532.6 732L535.8 732" stroke-width="0.6" stroke="#ddd"/>
<path d="M532.6 735.5L535.8 735.5" stroke-width="0.6" stroke="#ddd"/>
<path d="M532.6 739L535.8 739" stroke-width="0.6" stroke="#ddd"/>
<rect x="556.4" y="703.2" width="3.2" height="10.4" stroke-width="0.5" stroke="#111" fill="#111" stroke-linejoin="miter" />
<rect x="557" y="719.8" width="2.8" height="7.8" stroke-width="0.5" stroke="#111" fill="#111" stroke-linejoin="miter" />
<rect x="555.8" y="732.8" width="3.4" height="9" stroke-width="0.5" stroke="#111" fill="#111" stroke-linejoin="miter" />
<path d="M558.4 703L558.4 746" stroke-width="1" stroke="#111"/>
<rect x="541.6" y="709.5" width="9.8" height="10.2" rx="2.6" stroke-width="1.1" stroke="#111" />
<rect x="541.6" y="720.6" width="9.8" height="8.2" rx="2.2" stroke-width="1.1" stroke="#111" />
<rect x="542.2" y="730.2" width="8" height="10.4" rx="2.2" stroke-width="1.1" stroke="#111" />
<rect x="550" y="744.6" width="6.4" height="10.4" rx="2.2" stroke-width="1.5" stroke="#111" />
<path d="M545.6 747L550 747" stroke-width="1.5" stroke="#111"/>
<path d="M545.6 750L550 750" stroke-width="1.5" stroke="#111"/>
<path d="M545.6 753L550 753" stroke-width="1.5" stroke="#111"/>
<rect x="538.4" y="757.4" width="16.8" height="3.2" stroke-width="0.5" stroke="#111" fill="#111" stroke-linejoin="miter" />
<rect x="543.6" y="762.8" width="6.4" height="3.8" stroke-width="1.1" stroke="#111" stroke-linejoin="miter" />
<path d="M545.5 766.5L545.5 820"/>
<path d="M549.1 766.5L549.1 820"/>
<path d="M541.6 807.6L552.2 807.6" stroke-width="1.6" stroke="#111"/>
<path d="M541.6 810.6L552.2 810.6" stroke-width="1.6" stroke="#111"/>
<text x="578.2" y="759" font-size="8.3" text-anchor="middle" fill="#222" stroke="none" transform="rotate(-90 578.2 759)" textLength="41.4" lengthAdjust="spacingAndGlyphs" font-weight="bold">STROJARNICA</text>
<text x="586.8" y="759" font-size="8.3" text-anchor="middle" fill="#222" stroke="none" transform="rotate(-90 586.8 759)" textLength="41.4" lengthAdjust="spacingAndGlyphs" font-weight="bold">ENGINE ROOM</text>
<rect x="484.8" y="787" width="26" height="27.7" stroke-linejoin="miter" />
<path d="M484.8 787L510.8 814.7" stroke-width="0.9"/>
<path d="M510.8 787L484.8 814.7" stroke-width="0.9"/>
<path d="M601.2 749 L629.8 757.6 L614 812.7 L586.4 804Z"/>
<path d="M503.3 820L591.2 820"/>
<path d="M503.3 820 L538.4 889.3"/>
<path d="M591.5 820 L556.4 889.3"/>
<path d="M517 817 L577.8 817 L567.4 874.8 L527.4 874.8Z"/>
<path d="M517 817L567.4 874.8" stroke-width="0.9"/>
<path d="M577.8 817L527.4 874.8" stroke-width="0.9"/>
<path d="M522.6 820 L533.6 874.8" stroke-width="0.7"/>
<path d="M572.2 820 L561.2 874.8" stroke-width="0.7"/>
<path d="M502.8 879.3L590.7 879.3"/>
<circle cx="547.4" cy="879.3" r="4.8" fill="#fff" />
<circle cx="547.4" cy="879.3" r="2.6" />
<circle cx="547.4" cy="879.3" r="0.9" stroke="none" fill="#111" />
<circle cx="491.4" cy="777.9" r="1" stroke="none" fill="#111" />
<circle cx="581.8" cy="815" r="1" stroke="none" fill="#111" />
<circle cx="581.2" cy="824.7" r="1" stroke="none" fill="#111" />
<circle cx="571.3" cy="716.3" r="1" stroke="none" fill="#111" />
<circle cx="523.3" cy="732.8" r="1" stroke="none" fill="#111" />
<path d="M509.9 292 L507.9 295.8 L505 301.1 L501.7 307.4 L498.4 314.1 L495.6 320.6 L493.4 327.1 L491.4 333.9 L489.6 340.9 L487.9 348 L486 355 L484 361.9 L481.9 368.7 L479.8 375.6 L477.8 382.7 L476 390 L474.3 397.7 L472.6 405.6 L471.1 413.8 L469.7 421.9 L468.5 430 L467.5 437.7 L466.7 445 L466.1 452.5 L465.5 460.7 L465 470 L464.5 481.4 L464.1 494.4 L463.8 507.9 L463.5 520.5 L463.5 531 L463.7 538.9 L464 545.1 L464.5 550.2 L465 555 L465.5 560 L465.9 565.2 L466.3 570 L466.7 574.8 L467.3 579.7 L468 585 L469 590.4 L470.1 595.7 L471.4 601.3 L472.7 607.6 L474.2 615 L475.8 624.2 L477.6 635 L479.5 646.3 L481.3 656.8 L482.8 665.6 L484 671.9 L484.8 676.4 L485.6 680.2 L486.5 684.4 L487.6 690 L489 697.2 L490.5 705.1 L492.1 713.8 L493.8 723 L495.6 732.8 L497.5 743.8 L499.6 755.9 L501.8 768.4 L503.8 780.1 L505.6 790 L507.2 798.2 L508.7 805.4 L510.1 811.5 L511.2 816.4 L512 820" stroke-width="0.9"/>
<path d="M584.9 292 L586.9 295.8 L589.8 301.1 L593.1 307.4 L596.4 314.1 L599.2 320.6 L601.4 327.1 L603.4 333.9 L605.2 340.9 L606.9 348 L608.8 355 L610.8 361.9 L612.9 368.7 L615 375.6 L617 382.7 L618.8 390 L620.5 397.7 L622.2 405.6 L623.7 413.8 L625.1 421.9 L626.3 430 L627.3 437.7 L628.1 445 L628.7 452.5 L629.3 460.7 L629.8 470 L630.3 481.4 L630.7 494.4 L631 507.9 L631.3 520.5 L631.3 531 L631.1 538.9 L630.8 545.1 L630.3 550.2 L629.8 555 L629.3 560 L628.9 565.2 L628.5 570 L628.1 574.8 L627.5 579.7 L626.8 585 L625.8 590.4 L624.7 595.7 L623.4 601.3 L622.1 607.6 L620.6 615 L619 624.2 L617.2 635 L615.3 646.3 L613.5 656.8 L612 665.6 L610.8 671.9 L610 676.4 L609.2 680.2 L608.3 684.4 L607.2 690 L605.8 697.2 L604.3 705.1 L602.7 713.8 L601 723 L599.2 732.8 L597.3 743.8 L595.2 755.9 L593 768.4 L591 780.1 L589.2 790 L587.6 798.2 L586.1 805.4 L584.7 811.5 L583.6 816.4 L582.8 820" stroke-width="0.9"/>
<path d="M457.2 430.6 L456.2 455 L455.6 470.6" stroke-width="0.9"/>
<path d="M637.6 430.6 L638.6 455 L639.2 470.6" stroke-width="0.9"/>
<!-- leaders -->
<path d="M98.5 171.5 L272.7 369.2" stroke-width="1" stroke="#222"/>
<path d="M97.8 214.5 L226.5 348.3 L218 369.2" stroke-width="1" stroke="#222"/>
<path d="M93 251 L185.5 320" stroke-width="1" stroke="#222"/>
<path d="M97.1 280 L180.6 337.7" stroke-width="1" stroke="#222"/>
<path d="M97.2 318.5 L205.8 371.1" stroke-width="1" stroke="#222"/>
<path d="M97 352.5 L189.6 377.8" stroke-width="1" stroke="#222"/>
<path d="M97.1 390 L185.3 384.6" stroke-width="1" stroke="#222"/>
<path d="M97.1 425 L184.2 391.3" stroke-width="1" stroke="#222"/>
<path d="M97.1 461.5 L182.4 400.7" stroke-width="1" stroke="#222"/>
<path d="M97.3 554 L243.6 531.8" stroke-width="1" stroke="#222"/>
<path d="M118.4 852.6 L181.6 800" stroke-width="1" stroke="#222"/>
<path d="M118.4 887 L285.6 778.2" stroke-width="1" stroke="#222"/>
<path d="M378 275 L297 294.6" stroke-width="1" stroke="#222"/>
<path d="M378 315 L297.3 313" stroke-width="1" stroke="#222"/>
<path d="M378 351.3 L310.8 342.9" stroke-width="1" stroke="#222"/>
<path d="M378 382.5 L288 370.6" stroke-width="1" stroke="#222"/>
<path d="M416 516 L547.4 493.6" stroke-width="1" stroke="#222"/>
<path d="M378 576.5 L316.8 556" stroke-width="1" stroke="#222"/>
<path d="M364 632.5 L303 680.8" stroke-width="1" stroke="#222"/>
<path d="M364 672 L308.8 691" stroke-width="1" stroke="#222"/>
<path d="M364 722.5 L308.8 707.8" stroke-width="1" stroke="#222"/>
<path d="M364.3 768 L296.5 777.9" stroke-width="1" stroke="#222"/>
<path d="M363.3 816.8 L308.6 788.6" stroke-width="1" stroke="#222"/>
<path d="M364.3 855 L301.4 788.3" stroke-width="1" stroke="#222"/>
<path d="M363.3 887 L294.1 790.7" stroke-width="1" stroke="#222"/>
<path d="M418 739.3 L523.3 732.8" stroke-width="1" stroke="#222"/>
<path d="M429.7 807.2 L491.4 777.9" stroke-width="1" stroke="#222"/>
<path d="M683.1 703 L571.3 716.3" stroke-width="1" stroke="#222"/>
<path d="M669.2 826.5 L581.8 815" stroke-width="1" stroke="#222"/>
<path d="M670.2 865 L642.3 845 L581.2 824.7" stroke-width="1" stroke="#222"/>
<circle cx="180.6" cy="337.7" r="1" stroke="none" fill="#111" />
<circle cx="310.8" cy="342.9" r="1" stroke="none" fill="#111" />
<!-- helm / key symbols -->
<circle cx="257" cy="397.5" r="11.4" stroke-width="1" stroke="#444" fill="#fff" />
<g transform="translate(257 397.5)" stroke="none" fill="#111">
<path d="M-4.2 -5.5C-6.7 -5.8 -7.4 -3.5 -7.3 -0.5C-7.1 3 -6.5 6 -3.5 6.6C-1.5 6.9 -0.2 6.2 -0.3 4.8C-0.4 3.6 -1.5 3.6 -2.5 3.8C-3.6 4 -4.1 3 -4.1 1.5C-4.1 -0.5 -4.2 -2.4 -2.6 -2.4C-0.5 -2.4 0.8 1 3.6 1.1C6.2 1.2 8.2 -0.6 9.4 -2.6C7.8 -1.6 6.2 -1 4.2 -1.1C1.8 -1.2 0.8 -5.2 -4.2 -5.5Z"/>
</g>
<circle cx="296" cy="465.4" r="11.4" stroke-width="1" stroke="#444" fill="#fff" />
<g transform="translate(296 465.4)" stroke="none" fill="#111">
<path d="M-4.2 -5.5C-6.7 -5.8 -7.4 -3.5 -7.3 -0.5C-7.1 3 -6.5 6 -3.5 6.6C-1.5 6.9 -0.2 6.2 -0.3 4.8C-0.4 3.6 -1.5 3.6 -2.5 3.8C-3.6 4 -4.1 3 -4.1 1.5C-4.1 -0.5 -4.2 -2.4 -2.6 -2.4C-0.5 -2.4 0.8 1 3.6 1.1C6.2 1.2 8.2 -0.6 9.4 -2.6C7.8 -1.6 6.2 -1 4.2 -1.1C1.8 -1.2 0.8 -5.2 -4.2 -5.5Z"/>
</g>
<circle cx="260.4" cy="702.4" r="11.4" stroke-width="1" stroke="#444" fill="#fff" />
<g transform="translate(260.4 702.4)" stroke="none" fill="#111">
<path d="M-4.2 -5.5C-6.7 -5.8 -7.4 -3.5 -7.3 -0.5C-7.1 3 -6.5 6 -3.5 6.6C-1.5 6.9 -0.2 6.2 -0.3 4.8C-0.4 3.6 -1.5 3.6 -2.5 3.8C-3.6 4 -4.1 3 -4.1 1.5C-4.1 -0.5 -4.2 -2.4 -2.6 -2.4C-0.5 -2.4 0.8 1 3.6 1.1C6.2 1.2 8.2 -0.6 9.4 -2.6C7.8 -1.6 6.2 -1 4.2 -1.1C1.8 -1.2 0.8 -5.2 -4.2 -5.5Z"/>
</g>
<circle cx="524.5" cy="266.4" r="11.4" stroke-width="1" stroke="#444" fill="#fff" />
<g transform="translate(524.5 266.4)" stroke="none" fill="#111">
<path d="M-4.2 -5.5C-6.7 -5.8 -7.4 -3.5 -7.3 -0.5C-7.1 3 -6.5 6 -3.5 6.6C-1.5 6.9 -0.2 6.2 -0.3 4.8C-0.4 3.6 -1.5 3.6 -2.5 3.8C-3.6 4 -4.1 3 -4.1 1.5C-4.1 -0.5 -4.2 -2.4 -2.6 -2.4C-0.5 -2.4 0.8 1 3.6 1.1C6.2 1.2 8.2 -0.6 9.4 -2.6C7.8 -1.6 6.2 -1 4.2 -1.1C1.8 -1.2 0.8 -5.2 -4.2 -5.5Z"/>
</g>
<circle cx="516.2" cy="449.7" r="11.4" stroke-width="1" stroke="#444" fill="#fff" />
<g transform="translate(516.2 449.7)" stroke="none" fill="#111">
<path d="M-4.2 -5.5C-6.7 -5.8 -7.4 -3.5 -7.3 -0.5C-7.1 3 -6.5 6 -3.5 6.6C-1.5 6.9 -0.2 6.2 -0.3 4.8C-0.4 3.6 -1.5 3.6 -2.5 3.8C-3.6 4 -4.1 3 -4.1 1.5C-4.1 -0.5 -4.2 -2.4 -2.6 -2.4C-0.5 -2.4 0.8 1 3.6 1.1C6.2 1.2 8.2 -0.6 9.4 -2.6C7.8 -1.6 6.2 -1 4.2 -1.1C1.8 -1.2 0.8 -5.2 -4.2 -5.5Z"/>
</g>
<circle cx="580.6" cy="450.6" r="11.4" stroke-width="1" stroke="#444" fill="#fff" />
<g transform="translate(580.6 450.6)" stroke="none" fill="#111">
<path d="M-4.2 -5.5C-6.7 -5.8 -7.4 -3.5 -7.3 -0.5C-7.1 3 -6.5 6 -3.5 6.6C-1.5 6.9 -0.2 6.2 -0.3 4.8C-0.4 3.6 -1.5 3.6 -2.5 3.8C-3.6 4 -4.1 3 -4.1 1.5C-4.1 -0.5 -4.2 -2.4 -2.6 -2.4C-0.5 -2.4 0.8 1 3.6 1.1C6.2 1.2 8.2 -0.6 9.4 -2.6C7.8 -1.6 6.2 -1 4.2 -1.1C1.8 -1.2 0.8 -5.2 -4.2 -5.5Z"/>
</g>
<circle cx="550.4" cy="511.6" r="11.4" stroke-width="1" stroke="#444" fill="#fff" />
<g transform="translate(550.4 511.6)" stroke="none" fill="#111">
<path d="M-4.2 -5.5C-6.7 -5.8 -7.4 -3.5 -7.3 -0.5C-7.1 3 -6.5 6 -3.5 6.6C-1.5 6.9 -0.2 6.2 -0.3 4.8C-0.4 3.6 -1.5 3.6 -2.5 3.8C-3.6 4 -4.1 3 -4.1 1.5C-4.1 -0.5 -4.2 -2.4 -2.6 -2.4C-0.5 -2.4 0.8 1 3.6 1.1C6.2 1.2 8.2 -0.6 9.4 -2.6C7.8 -1.6 6.2 -1 4.2 -1.1C1.8 -1.2 0.8 -5.2 -4.2 -5.5Z"/>
</g>
<circle cx="517.6" cy="631.6" r="11.4" stroke-width="1" stroke="#444" fill="#fff" />
<g transform="translate(517.6 631.6)" stroke="none" fill="#111">
<path d="M-4.2 -5.5C-6.7 -5.8 -7.4 -3.5 -7.3 -0.5C-7.1 3 -6.5 6 -3.5 6.6C-1.5 6.9 -0.2 6.2 -0.3 4.8C-0.4 3.6 -1.5 3.6 -2.5 3.8C-3.6 4 -4.1 3 -4.1 1.5C-4.1 -0.5 -4.2 -2.4 -2.6 -2.4C-0.5 -2.4 0.8 1 3.6 1.1C6.2 1.2 8.2 -0.6 9.4 -2.6C7.8 -1.6 6.2 -1 4.2 -1.1C1.8 -1.2 0.8 -5.2 -4.2 -5.5Z"/>
</g>
<circle cx="571.3" cy="632" r="11.4" stroke-width="1" stroke="#444" fill="#fff" />
<g transform="translate(571.3 632)" stroke="none" fill="#111">
<path d="M-4.2 -5.5C-6.7 -5.8 -7.4 -3.5 -7.3 -0.5C-7.1 3 -6.5 6 -3.5 6.6C-1.5 6.9 -0.2 6.2 -0.3 4.8C-0.4 3.6 -1.5 3.6 -2.5 3.8C-3.6 4 -4.1 3 -4.1 1.5C-4.1 -0.5 -4.2 -2.4 -2.6 -2.4C-0.5 -2.4 0.8 1 3.6 1.1C6.2 1.2 8.2 -0.6 9.4 -2.6C7.8 -1.6 6.2 -1 4.2 -1.1C1.8 -1.2 0.8 -5.2 -4.2 -5.5Z"/>
</g>
<circle cx="508.5" cy="749" r="11.4" stroke-width="1" stroke="#444" fill="#fff" />
<g transform="translate(508.5 749)" stroke="none" fill="#111">
<path d="M-4.2 -5.5C-6.7 -5.8 -7.4 -3.5 -7.3 -0.5C-7.1 3 -6.5 6 -3.5 6.6C-1.5 6.9 -0.2 6.2 -0.3 4.8C-0.4 3.6 -1.5 3.6 -2.5 3.8C-3.6 4 -4.1 3 -4.1 1.5C-4.1 -0.5 -4.2 -2.4 -2.6 -2.4C-0.5 -2.4 0.8 1 3.6 1.1C6.2 1.2 8.2 -0.6 9.4 -2.6C7.8 -1.6 6.2 -1 4.2 -1.1C1.8 -1.2 0.8 -5.2 -4.2 -5.5Z"/>
</g>
<circle cx="306.1" cy="619.1" r="11.2" stroke-width="1.2" stroke="#2a2a2a" fill="#fff" />
<path d="M297.9 619.1L310.1 619.1" stroke-width="3.1" stroke="#111" stroke-linecap="butt"/>
<circle cx="311.7" cy="619.1" r="3.8" stroke-width="0.5" stroke="#333" fill="#3a3a3a" />
<circle cx="568.4" cy="795.6" r="10.8" stroke-width="1.2" stroke="#2a2a2a" fill="#fff" />
<path d="M560.2 795.6L572.4 795.6" stroke-width="3.1" stroke="#111" stroke-linecap="butt"/>
<circle cx="574" cy="795.6" r="3.8" stroke-width="0.5" stroke="#333" fill="#3a3a3a" />
<!-- lifebuoy icons -->
<rect x="269.2" y="383" width="27.8" height="27.2" stroke-width="0.6" stroke="#0a0a0a" fill="#0a0a0a" stroke-linejoin="miter" />
<g transform="translate(269.2 383) scale(1 1)" stroke="none">
<path d="M10.2 7.6H22Q24.9 7.6 24.9 10.5V17.7Q24.9 20.6 22 20.6H10.2A6.5 6.5 0 0 1 10.2 7.6Z" fill="#fff"/>
<circle cx="9.6" cy="14.1" r="3.2" fill="#0a0a0a"/>
<rect x="9.6" y="13" width="16" height="2.2" fill="#0a0a0a"/>
</g>
<rect x="246.2" y="455.8" width="27.6" height="26" stroke-width="0.6" stroke="#0a0a0a" fill="#0a0a0a" stroke-linejoin="miter" />
<g transform="translate(246.2 455.8) scale(1 1)" stroke="none">
<path d="M10.2 7.6H22Q24.9 7.6 24.9 10.5V17.7Q24.9 20.6 22 20.6H10.2A6.5 6.5 0 0 1 10.2 7.6Z" fill="#fff"/>
<circle cx="9.6" cy="14.1" r="3.2" fill="#0a0a0a"/>
<rect x="9.6" y="13" width="16" height="2.2" fill="#0a0a0a"/>
</g>
<rect x="549.2" y="252.8" width="25.8" height="26.2" stroke-width="0.6" stroke="#0a0a0a" fill="#0a0a0a" stroke-linejoin="miter" />
<g transform="translate(549.2 252.8) scale(0.9 1)" stroke="none">
<path d="M10.2 7.6H22Q24.9 7.6 24.9 10.5V17.7Q24.9 20.6 22 20.6H10.2A6.5 6.5 0 0 1 10.2 7.6Z" fill="#fff"/>
<circle cx="9.6" cy="14.1" r="3.2" fill="#0a0a0a"/>
<rect x="9.6" y="13" width="16" height="2.2" fill="#0a0a0a"/>
</g>
<rect x="483.2" y="392" width="26.6" height="26.6" stroke-width="0.6" stroke="#0a0a0a" fill="#0a0a0a" stroke-linejoin="miter" />
<g transform="translate(483.2 392) scale(1 1)" stroke="none">
<path d="M10.2 7.6H22Q24.9 7.6 24.9 10.5V17.7Q24.9 20.6 22 20.6H10.2A6.5 6.5 0 0 1 10.2 7.6Z" fill="#fff"/>
<circle cx="9.6" cy="14.1" r="3.2" fill="#0a0a0a"/>
<rect x="9.6" y="13" width="16" height="2.2" fill="#0a0a0a"/>
</g>
<rect x="585.2" y="392.8" width="27.4" height="27" stroke-width="0.6" stroke="#0a0a0a" fill="#0a0a0a" stroke-linejoin="miter" />
<g transform="translate(585.2 392.8) scale(1 1)" stroke="none">
<path d="M10.2 7.6H22Q24.9 7.6 24.9 10.5V17.7Q24.9 20.6 22 20.6H10.2A6.5 6.5 0 0 1 10.2 7.6Z" fill="#fff"/>
<circle cx="9.6" cy="14.1" r="3.2" fill="#0a0a0a"/>
<rect x="9.6" y="13" width="16" height="2.2" fill="#0a0a0a"/>
</g>
<rect x="470.8" y="603.7" width="27.7" height="25.4" stroke-width="0.6" stroke="#0a0a0a" fill="#0a0a0a" stroke-linejoin="miter" />
<g transform="translate(470.8 603.7) scale(1 0.9)" stroke="none">
<path d="M10.2 7.6H22Q24.9 7.6 24.9 10.5V17.7Q24.9 20.6 22 20.6H10.2A6.5 6.5 0 0 1 10.2 7.6Z" fill="#fff"/>
<circle cx="9.6" cy="14.1" r="3.2" fill="#0a0a0a"/>
<rect x="9.6" y="13" width="16" height="2.2" fill="#0a0a0a"/>
</g>
<rect x="596.4" y="605" width="27.2" height="26.4" stroke-width="0.6" stroke="#0a0a0a" fill="#0a0a0a" stroke-linejoin="miter" />
<g transform="translate(596.4 605) scale(1 1)" stroke="none">
<path d="M10.2 7.6H22Q24.9 7.6 24.9 10.5V17.7Q24.9 20.6 22 20.6H10.2A6.5 6.5 0 0 1 10.2 7.6Z" fill="#fff"/>
<circle cx="9.6" cy="14.1" r="3.2" fill="#0a0a0a"/>
<rect x="9.6" y="13" width="16" height="2.2" fill="#0a0a0a"/>
</g>
<rect x="364" y="619" width="27.5" height="27.3" stroke-width="0.6" stroke="#0a0a0a" fill="#0a0a0a" stroke-linejoin="miter" />
<g transform="translate(364 619) scale(1 1)" stroke="none">
<path d="M10.2 7.6H22Q24.9 7.6 24.9 10.5V17.7Q24.9 20.6 22 20.6H10.2A6.5 6.5 0 0 1 10.2 7.6Z" fill="#fff"/>
<circle cx="9.6" cy="14.1" r="3.2" fill="#0a0a0a"/>
<rect x="9.6" y="13" width="16" height="2.2" fill="#0a0a0a"/>
<rect x="14" y="15.6" width="11" height="4.6" fill="#0a0a0a"/><rect x="16" y="16.8" width="2" height="1.2" fill="#fff"/><rect x="20" y="16.8" width="2.4" height="1.6" fill="#fff"/>
</g>
<rect x="364" y="659.4" width="27.5" height="26.6" stroke-width="0.6" stroke="#0a0a0a" fill="#0a0a0a" stroke-linejoin="miter" />
<g transform="translate(364 659.4) scale(1 1)" stroke="none">
<path d="M10.2 7.6H22Q24.9 7.6 24.9 10.5V17.7Q24.9 20.6 22 20.6H10.2A6.5 6.5 0 0 1 10.2 7.6Z" fill="#fff"/>
<circle cx="9.6" cy="14.1" r="3.2" fill="#0a0a0a"/>
<rect x="9.6" y="13" width="16" height="2.2" fill="#0a0a0a"/>
<rect x="14" y="15.6" width="11" height="4.6" fill="#0a0a0a"/><rect x="16" y="16.8" width="2" height="1.2" fill="#fff"/><rect x="20" y="16.8" width="2.4" height="1.6" fill="#fff"/>
</g>
<rect x="364" y="709.4" width="27.5" height="27" stroke-width="0.6" stroke="#0a0a0a" fill="#0a0a0a" stroke-linejoin="miter" />
<g transform="translate(364 709.4) scale(1 1)" stroke="none">
<path d="M10.2 7.6H22Q24.9 7.6 24.9 10.5V17.7Q24.9 20.6 22 20.6H10.2A6.5 6.5 0 0 1 10.2 7.6Z" fill="#fff"/>
<circle cx="9.6" cy="14.1" r="3.2" fill="#0a0a0a"/>
<rect x="9.6" y="13" width="16" height="2.2" fill="#0a0a0a"/>
</g>
<text x="368" y="666.5" font-size="4.6" text-anchor="start" fill="#555" stroke="none">N</text>
<text x="368" y="685" font-size="4.6" text-anchor="start" fill="#555" stroke="none">N</text>
<text x="387" y="666.5" font-size="4.6" text-anchor="start" fill="#555" stroke="none">N</text>
<text x="387" y="685" font-size="4.6" text-anchor="start" fill="#555" stroke="none">N</text>
<text x="368" y="716.5" font-size="4.6" text-anchor="start" fill="#555" stroke="none">N</text>
<text x="368" y="735" font-size="4.6" text-anchor="start" fill="#555" stroke="none">N</text>
<text x="387" y="716.5" font-size="4.6" text-anchor="start" fill="#555" stroke="none">N</text>
<text x="387" y="735" font-size="4.6" text-anchor="start" fill="#555" stroke="none">N</text>
<text x="399.4" y="634.4" font-size="8.4" text-anchor="middle" fill="#333" stroke="none" transform="rotate(-90 399.4 634.4)" textLength="9.3" lengthAdjust="spacingAndGlyphs">(1)</text>
<text x="399.8" y="673.8" font-size="8.4" text-anchor="middle" fill="#333" stroke="none" transform="rotate(-90 399.8 673.8)" textLength="9.3" lengthAdjust="spacingAndGlyphs">(3)</text>
<text x="398.4" y="716.3" font-size="8.3" text-anchor="middle" fill="#222" stroke="none" transform="rotate(-90 398.4 716.3)" textLength="47.5" lengthAdjust="spacingAndGlyphs" font-weight="bold">(1–ZA PRETILE)</text>
<!-- fire extinguishers -->
<rect x="378" y="262.2" width="27.1" height="26.7" stroke-width="1" stroke="#222" fill="#fff" stroke-linejoin="miter" />
<g transform="translate(378 262.2)">
<path d="M8.6 10.6H18.8Q19.8 10.6 19.8 11.6V16.2Q19.8 17.2 18.8 17.2H12C9.5 19.4 6.4 17.6 5.6 14.6C7 13 8 12.2 8.6 10.6Z" fill="#111" stroke="#111" stroke-width="0.6"/>
<rect x="16.2" y="11.6" width="2.8" height="4.6" fill="#fff" stroke="none"/>
<path d="M3.8 10.2C4.6 14.5 6.5 17.8 10.5 18.2M5 10.4L6.2 14" stroke="#111" stroke-width="0.9" fill="none"/>
<path d="M8.8 7.8L9.6 6.6L10.6 7.8Z" fill="#555" stroke="none"/>
<text x="20.6" y="8.4" font-size="3.4" fill="#666" stroke="none" transform="rotate(-72 20.6 8.4)">8kg</text>
</g>
<rect x="389" y="503" width="27" height="26.4" stroke-width="1" stroke="#222" fill="#fff" stroke-linejoin="miter" />
<g transform="translate(389 503)">
<path d="M8.6 10.6H18.8Q19.8 10.6 19.8 11.6V16.2Q19.8 17.2 18.8 17.2H12C9.5 19.4 6.4 17.6 5.6 14.6C7 13 8 12.2 8.6 10.6Z" fill="#111" stroke="#111" stroke-width="0.6"/>
<rect x="16.2" y="11.6" width="2.8" height="4.6" fill="#fff" stroke="none"/>
<path d="M3.8 10.2C4.6 14.5 6.5 17.8 10.5 18.2M5 10.4L6.2 14" stroke="#111" stroke-width="0.9" fill="none"/>
<path d="M8.8 7.8L9.6 6.6L10.6 7.8Z" fill="#555" stroke="none"/>
<text x="20.6" y="8.4" font-size="3.4" fill="#666" stroke="none" transform="rotate(-72 20.6 8.4)">8kg</text>
</g>
<rect x="378" y="563.2" width="27" height="26.8" stroke-width="1" stroke="#222" fill="#fff" stroke-linejoin="miter" />
<g transform="translate(378 563.2)">
<path d="M8.6 10.6H18.8Q19.8 10.6 19.8 11.6V16.2Q19.8 17.2 18.8 17.2H12C9.5 19.4 6.4 17.6 5.6 14.6C7 13 8 12.2 8.6 10.6Z" fill="#111" stroke="#111" stroke-width="0.6"/>
<rect x="16.2" y="11.6" width="2.8" height="4.6" fill="#fff" stroke="none"/>
<path d="M3.8 10.2C4.6 14.5 6.5 17.8 10.5 18.2M5 10.4L6.2 14" stroke="#111" stroke-width="0.9" fill="none"/>
<path d="M8.8 7.8L9.6 6.6L10.6 7.8Z" fill="#555" stroke="none"/>
<text x="20.6" y="8.4" font-size="3.4" fill="#666" stroke="none" transform="rotate(-72 20.6 8.4)">8kg</text>
</g>
<rect x="364.3" y="755" width="26.9" height="26.3" stroke-width="1" stroke="#222" fill="#fff" stroke-linejoin="miter" />
<g transform="translate(364.3 755)">
<path d="M8.6 10.6H18.8Q19.8 10.6 19.8 11.6V16.2Q19.8 17.2 18.8 17.2H12C9.5 19.4 6.4 17.6 5.6 14.6C7 13 8 12.2 8.6 10.6Z" fill="#111" stroke="#111" stroke-width="0.6"/>
<rect x="16.2" y="11.6" width="2.8" height="4.6" fill="#fff" stroke="none"/>
<path d="M3.8 10.2C4.6 14.5 6.5 17.8 10.5 18.2M5 10.4L6.2 14" stroke="#111" stroke-width="0.9" fill="none"/>
<path d="M8.8 7.8L9.6 6.6L10.6 7.8Z" fill="#555" stroke="none"/>
<text x="20.6" y="8.4" font-size="3.4" fill="#666" stroke="none" transform="rotate(-72 20.6 8.4)">8kg</text>
</g>
<rect x="402.6" y="807.2" width="27.1" height="26.4" stroke-width="1" stroke="#222" fill="#fff" stroke-linejoin="miter" />
<g transform="translate(402.6 807.2)">
<path d="M8.6 10.6H18.8Q19.8 10.6 19.8 11.6V16.2Q19.8 17.2 18.8 17.2H12C9.5 19.4 6.4 17.6 5.6 14.6C7 13 8 12.2 8.6 10.6Z" fill="#111" stroke="#111" stroke-width="0.6"/>
<rect x="16.2" y="11.6" width="2.8" height="4.6" fill="#fff" stroke="none"/>
<path d="M3.8 10.2C4.6 14.5 6.5 17.8 10.5 18.2M5 10.4L6.2 14" stroke="#111" stroke-width="0.9" fill="none"/>
<path d="M8.8 7.8L9.6 6.6L10.6 7.8Z" fill="#555" stroke="none"/>
<text x="20.6" y="8.4" font-size="3.4" fill="#666" stroke="none" transform="rotate(-72 20.6 8.4)">8kg</text>
</g>
<rect x="378" y="374.2" width="27.1" height="26.6" stroke-width="1" stroke="#222" fill="#fff" stroke-linejoin="miter" />
<g transform="translate(378 374.2)"><rect x="10.6" y="13.4" width="11" height="5.8" fill="#111" stroke="#111" stroke-width="0.5"/><path d="M3.4 12.4L5.6 17.6L8 11.6C9.5 11 10.4 12.4 10.8 14M5.6 17.6L5 22.6" stroke="#111" stroke-width="1.1" fill="none"/><path d="M13 18.6L20.8 14" stroke="#888" stroke-width="0.5"/><circle cx="5.3" cy="22" r="1.1" fill="#444" stroke="none"/><text x="13.6" y="10.6" font-size="3.8" fill="#777" stroke="none" transform="rotate(-90 13.6 10.6)">CO2</text><text x="20" y="10" font-size="3.4" fill="#555" stroke="none" transform="rotate(-90 20 10)">5kg</text></g>
<!-- left column icons -->
<path d="M74.2 160 L98.5 146.2 L98.5 173.3Z" stroke-width="1.1" stroke="#555" fill="#fff"/>
<circle cx="90.3" cy="160" r="8.1" stroke-width="1" stroke="#555" fill="#fff" />
<path d="M83 156.3 L97.6 156.3 L90.3 167.8Z" stroke-width="0.5" stroke="#111" fill="#111"/>
<path d="M90.3 156.3L90.3 167" stroke-width="0.6" stroke="#ddd"/>
<rect x="69" y="186" width="28.8" height="28.5" stroke-width="0.6" stroke="#0a0a0a" fill="#0a0a0a" stroke-linejoin="miter" />
<g stroke="none"><circle cx="75.6" cy="201.4" r="1.5" fill="#fff"/><path d="M79.2 200.8H87.6L89 196.8Q89.6 195.4 91 195.4H94Q96.3 195.8 96.3 199.5Q96.3 204.8 93.6 204.8H85.6Q84.4 204.8 84.4 203.6V202.4H79.2Z" fill="#fff"/><rect x="84.4" y="202" width="4.5" height="1.1" fill="#0a0a0a"/></g>
<path d="M72 197L77 188.5" stroke-width="0.6" stroke="#777"/>
<path d="M79 196L81.5 188" stroke-width="0.6" stroke="#777"/>
<path d="M86 188L86 193.5" stroke-width="0.6" stroke="#777"/>
<path d="M88.5 188L88.5 193" stroke-width="0.6" stroke="#777"/>
<path d="M92 187.5L92 192.5" stroke-width="0.6" stroke="#777"/>
<path d="M94.5 187.5L94.5 192.5" stroke-width="0.6" stroke="#777"/>
<path d="M72 210.5L77 204.5" stroke-width="0.6" stroke="#777"/>
<path d="M80 213L80 206.5" stroke-width="0.6" stroke="#777"/>
<path d="M84 213L88 206.5" stroke-width="0.6" stroke="#777"/>
<path d="M91 213L91 207" stroke-width="0.6" stroke="#777"/>
<path d="M93.5 213L93.5 207" stroke-width="0.6" stroke="#777"/>
<path d="M95.5 213L95.5 207" stroke-width="0.6" stroke="#777"/>
<circle cx="83" cy="240.4" r="11.7" stroke-width="4.7" stroke="#0d0d0d" fill="#fff" />
<rect x="80" y="234.8" width="6.6" height="11.4" stroke-width="1.5" stroke="#111" fill="#fff" stroke-linejoin="miter" />
<path d="M80 238L80 243" stroke-width="2" stroke="#111"/>
<rect x="68.1" y="264.6" width="29" height="29" stroke-width="0.6" stroke="#0d0d0d" fill="#0d0d0d" stroke-linejoin="miter" />
<path d="M71.6 266.6L71.6 271.1" stroke-width="0.7" stroke="#666"/>
<path d="M71.6 287.1L71.6 291.6" stroke-width="0.7" stroke="#666"/>
<path d="M74.2 266.6L74.2 271.1" stroke-width="0.7" stroke="#666"/>
<path d="M74.2 287.1L74.2 291.6" stroke-width="0.7" stroke="#666"/>
<path d="M76.8 266.6L76.8 271.1" stroke-width="0.7" stroke="#666"/>
<path d="M76.8 287.1L76.8 291.6" stroke-width="0.7" stroke="#666"/>
<path d="M79.4 266.6L79.4 271.1" stroke-width="0.7" stroke="#666"/>
<path d="M79.4 287.1L79.4 291.6" stroke-width="0.7" stroke="#666"/>
<path d="M82 266.6L82 271.1" stroke-width="0.7" stroke="#666"/>
<path d="M82 287.1L82 291.6" stroke-width="0.7" stroke="#666"/>
<path d="M84.6 266.6L84.6 271.1" stroke-width="0.7" stroke="#666"/>
<path d="M84.6 287.1L84.6 291.6" stroke-width="0.7" stroke="#666"/>
<path d="M89.1 266.6L89.1 291.6" stroke-width="0.7" stroke="#555"/>
<path d="M93.1 266.6L93.1 291.6" stroke-width="1.7" stroke="#444"/>
<circle cx="79.4" cy="279.3" r="6.6" stroke-width="1.6" stroke="#fff" fill="#3a3a3a" />
<rect x="378" y="337.2" width="29" height="28.8" stroke-width="0.6" stroke="#0d0d0d" fill="#0d0d0d" stroke-linejoin="miter" />
<path d="M381.5 339.2L381.5 343.7" stroke-width="0.7" stroke="#666"/>
<path d="M381.5 359.5L381.5 364" stroke-width="0.7" stroke="#666"/>
<path d="M384.1 339.2L384.1 343.7" stroke-width="0.7" stroke="#666"/>
<path d="M384.1 359.5L384.1 364" stroke-width="0.7" stroke="#666"/>
<path d="M386.7 339.2L386.7 343.7" stroke-width="0.7" stroke="#666"/>
<path d="M386.7 359.5L386.7 364" stroke-width="0.7" stroke="#666"/>
<path d="M389.3 339.2L389.3 343.7" stroke-width="0.7" stroke="#666"/>
<path d="M389.3 359.5L389.3 364" stroke-width="0.7" stroke="#666"/>
<path d="M391.9 339.2L391.9 343.7" stroke-width="0.7" stroke="#666"/>
<path d="M391.9 359.5L391.9 364" stroke-width="0.7" stroke="#666"/>
<path d="M394.5 339.2L394.5 343.7" stroke-width="0.7" stroke="#666"/>
<path d="M394.5 359.5L394.5 364" stroke-width="0.7" stroke="#666"/>
<path d="M399 339.2L399 364" stroke-width="0.7" stroke="#555"/>
<path d="M403 339.2L403 364" stroke-width="1.7" stroke="#444"/>
<circle cx="389.1" cy="351.7" r="6.6" stroke-width="1.6" stroke="#fff" fill="#3a3a3a" />
<rect x="76.4" y="302.2" width="20.8" height="31.6" stroke-width="1.2" stroke="#111" fill="#fff" stroke-linejoin="miter" />
<path d="M76.4 302.2 L76.4 333.8 L97.2 333.8Z" stroke-width="0.6" stroke="#0a0a0a" fill="#0a0a0a"/>
<rect x="68" y="340.8" width="29" height="29" stroke-width="0.6" stroke="#0d0d0d" fill="#0d0d0d" stroke-linejoin="miter" />
<g stroke="none" fill="#fff"><rect x="79" y="351.9" width="14.6" height="1.5"/><rect x="92.3" y="348.6" width="1.4" height="8.4"/><path d="M83.5 352.6C81 349 78 347.5 75 347.8C77.5 349.5 78.5 351 78.5 352.6C78.5 354.3 77.5 356 75 357.8C78 358 81 356.3 83.5 352.6Z"/><rect x="72.6" y="364" width="11.6" height="1.2"/><rect x="72.6" y="366.2" width="11.6" height="1.2"/></g>
<path d="M71 343L71 367" stroke-width="0.6" stroke="#555"/>
<path d="M73.5 343L73.5 350" stroke-width="0.6" stroke="#555"/>
<path d="M80 346L86 341.5" stroke-width="0.6" stroke="#555"/>
<path d="M86 350L91 342" stroke-width="0.6" stroke="#555"/>
<path d="M84 368L91 357" stroke-width="0.6" stroke="#555"/>
<path d="M94.5 342L94.5 368" stroke-width="0.6" stroke="#555"/>
<rect x="68.1" y="375.9" width="29" height="29" stroke-width="0.6" stroke="#0d0d0d" fill="#0d0d0d" stroke-linejoin="miter" />
<path d="M71.5 378L71.5 386" stroke-width="1" stroke="#666"/>
<path d="M71.5 395L71.5 403" stroke-width="1" stroke="#666"/>
<path d="M74.3 378L74.3 386" stroke-width="1" stroke="#666"/>
<path d="M74.3 395L74.3 403" stroke-width="1" stroke="#666"/>
<path d="M77.1 378L77.1 386" stroke-width="1" stroke="#666"/>
<path d="M77.1 395L77.1 403" stroke-width="1" stroke="#666"/>
<path d="M79.9 378L79.9 386" stroke-width="1" stroke="#666"/>
<path d="M79.9 395L79.9 403" stroke-width="1" stroke="#666"/>
<path d="M82 387L94 378" stroke-width="0.7" stroke="#555"/>
<path d="M82 403L94 394" stroke-width="0.7" stroke="#555"/>
<path d="M84 391L92 390" stroke-width="0.6" stroke="#666" stroke-dasharray="1.2 1.2"/>
<rect x="68.1" y="410.8" width="29" height="29" stroke-width="0.6" stroke="#0d0d0d" fill="#0d0d0d" stroke-linejoin="miter" />
<g stroke="none"><path d="M71.6 421C72.5 419.5 75 419.6 75.6 421.2L76.2 423.6L78.8 424.2V425.4L76.2 425.8C76 428.2 73 429.4 71.4 428C70.4 426 70.6 423 71.6 421Z" fill="#fff"/><circle cx="82" cy="414" r="2.2" fill="#555"/><circle cx="82" cy="435" r="2.2" fill="#555"/></g>
<path d="M87 412.5L87 438" stroke-width="0.9" stroke="#ddd" stroke-dasharray="2.5 1"/>
<path d="M88.8 412.5L88.8 438" stroke-width="0.9" stroke="#999" stroke-dasharray="5 1.5"/>
<path d="M90.8 412.5L90.8 438" stroke-width="0.9" stroke="#ddd" stroke-dasharray="2.5 1"/>
<path d="M92.8 412.5L92.8 438" stroke-width="0.9" stroke="#999" stroke-dasharray="5 1.5"/>
<path d="M94.6 412.5L94.6 438" stroke-width="0.9" stroke="#ddd" stroke-dasharray="2.5 1"/>
<rect x="68.1" y="447.2" width="29" height="29.3" stroke-width="0.6" stroke="#0d0d0d" fill="#0d0d0d" stroke-linejoin="miter" />
<g stroke="none"><rect x="83.2" y="457.7" width="8.6" height="7.6" rx="2.6" fill="#fff"/><path d="M92.6 457.4Q95.4 461.4 92.6 465.6" stroke="#fff" stroke-width="1.3" fill="none"/></g>
<path d="M71 452L73 449" stroke-width="0.7" stroke="#666"/>
<path d="M75 456L78 449" stroke-width="0.7" stroke="#666"/>
<path d="M81 453L83 449" stroke-width="0.7" stroke="#666"/>
<path d="M86 455L88 449" stroke-width="0.7" stroke="#666"/>
<path d="M92 454L93 449" stroke-width="0.7" stroke="#666"/>
<path d="M71 470L74 475" stroke-width="0.7" stroke="#666"/>
<path d="M78 468L80 475" stroke-width="0.7" stroke="#666"/>
<path d="M84 468L86 475" stroke-width="0.7" stroke="#666"/>
<path d="M90 468L92 475" stroke-width="0.7" stroke="#666"/>
<path d="M72 460L80 462" stroke-width="0.7" stroke="#666"/>
<path d="M74 465L80 464" stroke-width="0.7" stroke="#666"/>
<text x="65.4" y="356" font-size="8.4" text-anchor="middle" fill="#333" stroke="none" transform="rotate(-90 65.4 356)" textLength="11.8" lengthAdjust="spacingAndGlyphs">(15)</text>
<text x="65.4" y="390.8" font-size="8.4" text-anchor="middle" fill="#333" stroke="none" transform="rotate(-90 65.4 390.8)" textLength="9.3" lengthAdjust="spacingAndGlyphs">(6)</text>
<text x="65.4" y="424.8" font-size="8.4" text-anchor="middle" fill="#333" stroke="none" transform="rotate(-90 65.4 424.8)" textLength="9.3" lengthAdjust="spacingAndGlyphs">(2)</text>
<text x="65.4" y="462.2" font-size="8.4" text-anchor="middle" fill="#333" stroke="none" transform="rotate(-90 65.4 462.2)" textLength="9.3" lengthAdjust="spacingAndGlyphs">(1)</text>
<rect x="70" y="540" width="27.3" height="28.3" stroke-width="1" stroke="#222" fill="#fff" stroke-linejoin="miter" />
<rect x="82" y="543" width="3.3" height="23.3" stroke="none" fill="#0a0a0a" stroke-linejoin="miter" />
<text x="81" y="553.8" font-size="5.6" text-anchor="middle" fill="#000" stroke="none" transform="rotate(-90 81 553.8)" textLength="10.6" lengthAdjust="spacingAndGlyphs" font-weight="bold">FIRE</text>
<text x="89.8" y="554.6" font-size="5.6" text-anchor="middle" fill="#000" stroke="none" transform="rotate(-90 89.8 554.6)" textLength="11.6" lengthAdjust="spacingAndGlyphs" font-weight="bold">PLAN</text>
<rect x="91.3" y="839.5" width="27.1" height="27" stroke-width="1" stroke="#222" fill="#fff" stroke-linejoin="miter" />
<path d="M92 853.1 L112.6 841.1 L112.6 864.9Z" stroke-width="1" stroke="#222"/>
<rect x="91.3" y="874.4" width="27.1" height="27" stroke-width="1" stroke="#222" fill="#fff" stroke-linejoin="miter" />
<path d="M92 888 L112.6 876 L112.6 899.8Z" stroke-width="1" stroke="#222"/>
<path d="M104.4 847.4 L110.8 847.4 L107.6 853.1 L110.8 858.9 L104.4 858.9 L107.6 853.1Z" stroke-width="0.6" stroke="#111" fill="#111"/>
<circle cx="105.6" cy="887.6" r="6.6" stroke-width="0.6" stroke="#222" fill="#2a2a2a" />
<path d="M103 883Q107 887 104.5 892M108 884Q109 888 107.5 890" stroke-width="1" stroke="#000"/>
<text x="101.2" y="880.4" font-size="3" text-anchor="middle" fill="#666" stroke="none">3</text>
<!-- right column icons -->
<rect x="378" y="301.5" width="27.1" height="27" stroke-width="1" stroke="#222" fill="#fff" stroke-linejoin="miter" />
<path d="M391.7 301.5L391.7 328.5" stroke-width="1.1" stroke="#333"/>
<circle cx="391.6" cy="315.2" r="7.3" stroke-width="0.5" stroke="#0a0a0a" fill="#0a0a0a" />
<path d="M387.2 311.6 L396 311.6 L391.6 319.6Z" stroke-width="1.1" stroke="#fff" fill="#0a0a0a"/>
<path d="M388.6 310L394.6 310" stroke-width="0.9" stroke="#fff"/>
<rect x="412.8" y="723.8" width="4.7" height="30.2" stroke-width="0.9" stroke="#222" fill="#111" stroke-linejoin="miter" />
<rect x="413.4" y="724.4" width="3.5" height="3.8" stroke="none" fill="#fff" stroke-linejoin="miter" />
<rect x="363.4" y="804" width="27.8" height="27.6" stroke-width="1" stroke="#222" fill="#fff" stroke-linejoin="miter" />
<path d="M373 815.5 L381.5 810.6 L383 829.6 L373 829.6Z" stroke-width="0.6" stroke="#111" fill="#111"/>
<path d="M381.5 811L383.2 829.6" stroke-width="1" stroke="#111"/>
<path d="M373.2 829.6L383 829.6" stroke-width="0.7" stroke="#111"/>
<path d="M374 813Q379 807.5 384.6 810.6" stroke-width="1.1" stroke="#111"/>
<path d="M379.5 806 L382 805.2 L381 807.6" stroke-width="0.7" stroke="#333"/>
<path d="M375 827L380.5 813.5" stroke-width="0.5" stroke="#888"/>
<rect x="364.3" y="846.5" width="26.7" height="18.2" stroke-width="0.6" stroke="#0a0a0a" fill="#0a0a0a" stroke-linejoin="miter" />
<path d="M379 848.5L378.2 862.7" stroke-width="0.5" stroke="#555" stroke-dasharray="2 1.4"/>
<path d="M381.3 848.5L380.5 862.7" stroke-width="0.5" stroke="#555" stroke-dasharray="2 1.4"/>
<path d="M383.6 848.5L382.8 862.7" stroke-width="0.5" stroke="#555" stroke-dasharray="2 1.4"/>
<path d="M385.9 848.5L385.1 862.7" stroke-width="0.5" stroke="#555" stroke-dasharray="2 1.4"/>
<path d="M388.2 848.5L387.4 862.7" stroke-width="0.5" stroke="#555" stroke-dasharray="2 1.4"/>
<path d="M366.3 862.1L372.3 862.1" stroke-width="0.5" stroke="#888"/>
<path d="M366.1 849.5L366.1 860.7" stroke-width="0.5" stroke="#777"/>
<path d="M376.8 842.9 L379.2 843.9 L377.4 845.7" stroke-width="0.9" stroke="#222"/>
<rect x="670.2" y="856" width="26" height="19.6" stroke-width="0.6" stroke="#0a0a0a" fill="#0a0a0a" stroke-linejoin="miter" />
<path d="M684.5 858L683.7 873.6" stroke-width="0.5" stroke="#555" stroke-dasharray="2 1.4"/>
<path d="M686.8 858L686 873.6" stroke-width="0.5" stroke="#555" stroke-dasharray="2 1.4"/>
<path d="M689.1 858L688.3 873.6" stroke-width="0.5" stroke="#555" stroke-dasharray="2 1.4"/>
<path d="M691.4 858L690.6 873.6" stroke-width="0.5" stroke="#555" stroke-dasharray="2 1.4"/>
<path d="M693.7 858L692.9 873.6" stroke-width="0.5" stroke="#555" stroke-dasharray="2 1.4"/>
<path d="M672.2 873L678.2 873" stroke-width="0.5" stroke="#888"/>
<path d="M672 859L672 871.6" stroke-width="0.5" stroke="#777"/>
<path d="M682.4 852.4 L684.8 853.4 L683 855.2" stroke-width="0.9" stroke="#222"/>
<rect x="363.4" y="874.2" width="27.8" height="27.3" stroke-width="1" stroke="#222" fill="#fff" stroke-linejoin="miter" />
<path d="M372.1 877 L383.7 877 L377.9 886.2 L383.7 895.2 L372.1 895.2 L377.9 886.2Z" stroke-width="0.6" stroke="#0a0a0a" fill="#0a0a0a"/>
<path d="M368.4 886.6L377.9 886.6" stroke-width="1.1" stroke="#111"/>
<path d="M367.8 886.6L371 886.6" stroke-width="0.7" stroke="#111"/>
<path d="M368.6 885.2L370.2 888" stroke-width="0.7" stroke="#111"/>
<path d="M368.6 888L370.2 885.2" stroke-width="0.7" stroke="#111"/>
<path d="M377.9 895.2L377.9 897.6" stroke-width="1.1" stroke="#111"/>
<path d="M369.6 899.3 L369.6 897.6 L385.6 897.6" stroke-width="1.1" stroke="#222"/>
<rect x="669.2" y="813.2" width="27.2" height="27.3" stroke-width="1" stroke="#222" fill="#fff" stroke-linejoin="miter" />
<path d="M677.5 816 L689.1 816 L683.3 825.2 L689.1 834.2 L677.5 834.2 L683.3 825.2Z" stroke-width="0.6" stroke="#0a0a0a" fill="#0a0a0a"/>
<path d="M674.2 825.6L683.3 825.6" stroke-width="1.1" stroke="#111"/>
<path d="M673.6 825.6L676.8 825.6" stroke-width="0.7" stroke="#111"/>
<path d="M674.4 824.2L676 827" stroke-width="0.7" stroke="#111"/>
<path d="M674.4 827L676 824.2" stroke-width="0.7" stroke="#111"/>
<path d="M683.3 834.2L683.3 836.6" stroke-width="1.1" stroke="#111"/>
<path d="M675.4 838.3 L675.4 836.6 L690.8 836.6" stroke-width="1.1" stroke="#222"/>
<rect x="683.1" y="690" width="26.7" height="26.6" stroke-width="1" stroke="#222" fill="#fff" stroke-linejoin="miter" />
<circle cx="695.8" cy="703.3" r="7.2" stroke-width="1" stroke="#222" fill="#fff" />
<path d="M689.2 699.8 L702.4 699.8 L695.8 710.3Z" stroke-width="0.5" stroke="#0a0a0a" fill="#0a0a0a"/>
<path d="M695.8 691.8L695.8 696.1" stroke-width="1.3" stroke="#222"/>
<path d="M695.8 710.5L695.8 715" stroke-width="1.3" stroke="#222"/>
<rect x="210.3" y="858.3" width="30.7" height="30.7" stroke-width="0.6" stroke="#0a0a0a" fill="#0a0a0a" stroke-linejoin="miter" />
<path d="M217 866.5l2.2 -1.4l0.8 2.4l-2 1.2z" fill="#ddd" stroke="none"/>
<path d="M219.2 867.7L220.8 869.9" stroke-width="0.6" stroke="#999"/>
<path d="M231.5 865.5l2.2 -1.4l0.8 2.4l-2 1.2z" fill="#ddd" stroke="none"/>
<path d="M233.7 866.7L235.3 868.9" stroke-width="0.6" stroke="#999"/>
<path d="M216.5 882l2.2 -1.4l0.8 2.4l-2 1.2z" fill="#ddd" stroke="none"/>
<path d="M218.7 883.2L220.3 885.4" stroke-width="0.6" stroke="#999"/>
<path d="M232.5 881.5l2.2 -1.4l0.8 2.4l-2 1.2z" fill="#ddd" stroke="none"/>
<path d="M234.7 882.7L236.3 884.9" stroke-width="0.6" stroke="#999"/>
<!-- MAIN DECK title -->
<path d="M363.6 218.6 L340.4 218.6 L363.6 212.2 L340.4 205.7 L363.6 205.7" stroke-width="1" stroke="#555"/>
<path d="M363.6 218.6L340.4 218.6" stroke-width="1" stroke="#222"/>
<path d="M363.6 205.7L340.4 205.7" stroke-width="1" stroke="#222"/>
<path d="M363.6 199.7 L340.4 193.3 L363.6 187" stroke-width="1" stroke="#555"/>
<path d="M355 197.3 L355 189.4" stroke-width="1" stroke="#222"/>
<path d="M363.6 183.3 L340.4 183.3" stroke-width="1" stroke="#222"/>
<path d="M363.6 177.2 L340.4 177.2" stroke-width="1" stroke="#222"/>
<path d="M340.4 177.2 L363.6 166.4" stroke-width="1" stroke="#555"/>
<path d="M363.6 166.4 L340.4 166.4" stroke-width="1" stroke="#222"/>
<path d="M363.6 146.7L340.4 146.7L340.4 143.6C340.4 138.1 343.9 135.6 347.4 135.6L356.6 135.6C360.1 135.6 363.6 138.1 363.6 143.6Z" stroke-width="1" stroke="#333"/>
<path d="M363.6 121.7 L363.6 131.1 L340.4 131.1 L340.4 121.7" stroke-width="1" stroke="#222"/>
<path d="M351.8 131.1 L351.8 123.1" stroke-width="1" stroke="#222"/>
<path d="M345.9 106.4C342.4 106.4 340.4 108.6 340.4 112C340.4 115.6 343.4 117.5 347.4 117.5L356.6 117.5C360.6 117.5 363.6 115.6 363.6 112C363.6 108.6 361.6 106.4 358.1 106.4" stroke-width="1" stroke="#444"/>
<path d="M363.6 100.8 L340.4 100.8" stroke-width="1" stroke="#222"/>
<path d="M340.4 90.4 L354.1 100.8" stroke-width="1" stroke="#555"/>
<path d="M350.6 97.1 L363.6 90" stroke-width="1" stroke="#555"/>
</g>
</svg>
</body></html>
